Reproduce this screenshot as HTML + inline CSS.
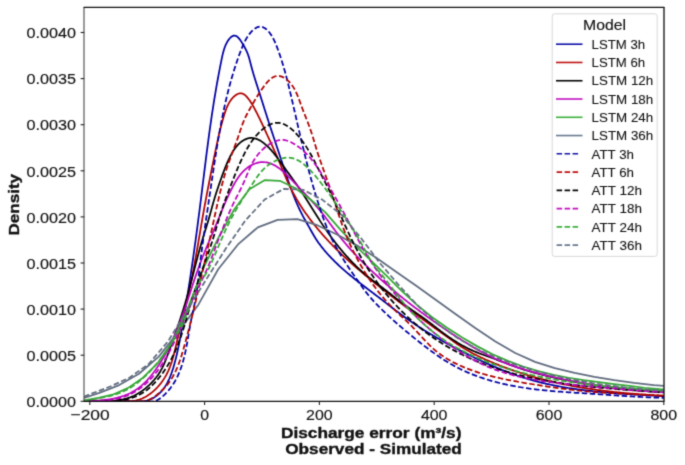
<!DOCTYPE html>
<html><head><meta charset="utf-8"><style>
html,body{margin:0;padding:0;background:#fff;}
svg{display:block;font-family:"Liberation Sans",sans-serif;}
text{fill:#111;stroke:#111;stroke-width:0.15;}
</style></head><body><div id="wrap">
<svg width="685" height="465" viewBox="0 0 685 465">
<defs><filter id="bl" x="0" y="0" width="1" height="1" color-interpolation-filters="sRGB"><feConvolveMatrix order="3" kernelMatrix="0.0225 0.1050 0.0225 0.1050 0.4900 0.1050 0.0225 0.1050 0.0225" edgeMode="duplicate" preserveAlpha="true"/></filter><clipPath id="ax"><rect x="84.2" y="7.5" width="579.5999999999999" height="393.8"/></clipPath></defs>
<g filter="url(#bl)"><rect width="685" height="465" fill="#fff"/>

<g clip-path="url(#ax)" fill="none" stroke-width="1.75" stroke-linejoin="round">
<path d="M84.00,401.40 L85.53,401.44 L87.05,401.47 L88.56,401.49 L90.07,401.50 L91.58,401.51 L93.08,401.51 L94.58,401.50 L96.07,401.49 L97.57,401.48 L99.05,401.46 L100.54,401.44 L102.03,401.41 L103.51,401.39 L104.99,401.36 L106.47,401.33 L107.95,401.30 L109.44,401.28 L110.92,401.25 L112.40,401.22 L113.89,401.20 L115.37,401.18 L116.86,401.17 L118.35,401.16 L119.84,401.15 L121.34,401.15 L122.84,401.16 L124.35,401.17 L125.86,401.19 L127.37,401.22 L128.89,401.26 L130.42,401.30 L131.95,401.36 L133.48,401.41 L135.02,401.45 L136.55,401.48 L138.07,401.48 L139.59,401.45 L141.10,401.38 L142.59,401.25 L144.07,401.07 L145.53,400.82 L146.97,400.50 L148.39,400.09 L149.78,399.60 L151.14,399.03 L152.47,398.38 L153.77,397.66 L155.03,396.87 L156.25,396.02 L157.42,395.12 L158.56,394.17 L159.64,393.17 L160.68,392.13 L161.67,391.05 L162.62,389.94 L163.52,388.79 L164.39,387.61 L165.21,386.39 L165.99,385.15 L166.73,383.88 L167.45,382.59 L168.12,381.27 L168.77,379.93 L169.39,378.57 L169.98,377.19 L170.54,375.79 L171.08,374.38 L171.59,372.96 L172.09,371.53 L172.56,370.09 L173.02,368.64 L173.46,367.18 L173.89,365.73 L174.30,364.27 L174.70,362.81 L175.10,361.35 L175.48,359.89 L175.85,358.42 L176.21,356.96 L176.56,355.50 L176.90,354.03 L177.24,352.57 L177.56,351.10 L177.88,349.64 L178.20,348.17 L178.50,346.70 L178.80,345.23 L179.09,343.76 L179.38,342.29 L179.67,340.82 L179.95,339.35 L180.22,337.88 L180.50,336.41 L180.77,334.94 L181.04,333.47 L181.30,331.99 L181.57,330.52 L181.83,329.05 L182.09,327.58 L182.35,326.10 L182.61,324.63 L182.87,323.16 L183.13,321.68 L183.38,320.21 L183.64,318.73 L183.89,317.26 L184.14,315.78 L184.39,314.31 L184.64,312.83 L184.89,311.36 L185.14,309.88 L185.39,308.40 L185.63,306.93 L185.87,305.45 L186.12,303.97 L186.36,302.50 L186.60,301.02 L186.84,299.54 L187.07,298.06 L187.31,296.59 L187.55,295.11 L187.78,293.63 L188.01,292.15 L188.25,290.67 L188.48,289.19 L188.71,287.71 L188.94,286.23 L189.17,284.75 L189.39,283.27 L189.62,281.79 L189.85,280.31 L190.07,278.83 L190.29,277.35 L190.52,275.87 L190.74,274.39 L190.96,272.91 L191.18,271.43 L191.40,269.94 L191.61,268.46 L191.83,266.98 L192.05,265.50 L192.26,264.01 L192.48,262.53 L192.69,261.05 L192.90,259.57 L193.11,258.08 L193.32,256.60 L193.53,255.12 L193.74,253.63 L193.95,252.15 L194.16,250.66 L194.37,249.18 L194.57,247.69 L194.78,246.21 L194.98,244.73 L195.18,243.24 L195.39,241.76 L195.59,240.27 L195.79,238.78 L195.99,237.30 L196.19,235.81 L196.39,234.33 L196.59,232.84 L196.79,231.35 L196.99,229.87 L197.18,228.38 L197.38,226.90 L197.58,225.41 L197.77,223.92 L197.96,222.43 L198.16,220.95 L198.35,219.46 L198.54,217.97 L198.74,216.49 L198.93,215.00 L199.12,213.51 L199.31,212.02 L199.50,210.53 L199.69,209.05 L199.88,207.56 L200.07,206.07 L200.26,204.58 L200.44,203.09 L200.63,201.60 L200.82,200.11 L201.00,198.62 L201.19,197.14 L201.37,195.65 L201.56,194.16 L201.74,192.67 L201.93,191.18 L202.11,189.69 L202.30,188.20 L202.48,186.71 L202.66,185.22 L202.85,183.73 L203.03,182.24 L203.21,180.75 L203.40,179.26 L203.58,177.77 L203.77,176.28 L203.95,174.79 L204.13,173.30 L204.32,171.82 L204.50,170.33 L204.69,168.84 L204.87,167.35 L205.06,165.86 L205.24,164.37 L205.43,162.88 L205.61,161.40 L205.80,159.91 L205.99,158.42 L206.18,156.93 L206.37,155.45 L206.55,153.96 L206.74,152.47 L206.94,150.99 L207.13,149.50 L207.32,148.02 L207.51,146.53 L207.71,145.05 L207.90,143.56 L208.10,142.08 L208.29,140.60 L208.49,139.11 L208.69,137.63 L208.89,136.15 L209.09,134.67 L209.29,133.18 L209.50,131.70 L209.70,130.22 L209.91,128.74 L210.11,127.26 L210.32,125.78 L210.53,124.31 L210.74,122.83 L210.95,121.35 L211.17,119.87 L211.38,118.40 L211.60,116.92 L211.82,115.44 L212.04,113.97 L212.26,112.49 L212.48,111.02 L212.71,109.54 L212.94,108.07 L213.17,106.59 L213.40,105.12 L213.63,103.64 L213.86,102.17 L214.10,100.69 L214.34,99.22 L214.58,97.74 L214.82,96.26 L215.07,94.79 L215.31,93.31 L215.56,91.83 L215.81,90.35 L216.07,88.88 L216.32,87.40 L216.58,85.92 L216.84,84.44 L217.10,82.96 L217.37,81.47 L217.64,79.99 L217.91,78.51 L218.18,77.02 L218.46,75.54 L218.73,74.05 L219.01,72.57 L219.30,71.08 L219.58,69.59 L219.87,68.10 L220.16,66.61 L220.46,65.11 L220.76,63.62 L221.06,62.12 L221.36,60.63 L221.67,59.13 L221.98,57.63 L222.30,56.13 L222.64,54.65 L222.99,53.17 L223.38,51.70 L223.79,50.25 L224.24,48.82 L224.72,47.41 L225.26,46.02 L225.84,44.66 L226.48,43.34 L227.17,42.05 L227.93,40.79 L228.76,39.60 L229.64,38.49 L230.57,37.51 L231.54,36.69 L232.55,36.07 L233.57,35.69 L234.61,35.58 L235.65,35.78 L236.69,36.30 L237.71,37.09 L238.72,38.12 L239.71,39.34 L240.68,40.69 L241.62,42.13 L242.53,43.61 L243.40,45.10 L244.23,46.54 L245.01,47.97 L245.75,49.37 L246.44,50.76 L247.06,52.16 L247.63,53.56 L248.15,54.96 L248.62,56.37 L249.06,57.79 L249.46,59.20 L249.85,60.63 L250.22,62.05 L250.58,63.48 L250.94,64.90 L251.31,66.33 L251.69,67.76 L252.09,69.18 L252.49,70.61 L252.90,72.04 L253.31,73.47 L253.74,74.89 L254.17,76.32 L254.61,77.75 L255.05,79.18 L255.50,80.60 L255.95,82.03 L256.40,83.46 L256.86,84.89 L257.32,86.31 L257.78,87.74 L258.24,89.17 L258.70,90.60 L259.16,92.03 L259.62,93.45 L260.08,94.88 L260.54,96.31 L260.99,97.74 L261.44,99.16 L261.89,100.59 L262.35,102.02 L262.80,103.45 L263.25,104.87 L263.69,106.30 L264.14,107.73 L264.59,109.15 L265.04,110.58 L265.49,112.01 L265.95,113.43 L266.40,114.86 L266.85,116.29 L267.31,117.71 L267.77,119.14 L268.23,120.57 L268.69,121.99 L269.15,123.42 L269.62,124.84 L270.08,126.27 L270.55,127.69 L271.02,129.12 L271.49,130.55 L271.96,131.97 L272.43,133.39 L272.91,134.82 L273.38,136.24 L273.85,137.67 L274.33,139.09 L274.80,140.51 L275.28,141.94 L275.75,143.36 L276.23,144.78 L276.70,146.20 L277.17,147.62 L277.65,149.05 L278.12,150.47 L278.59,151.89 L279.06,153.31 L279.53,154.73 L280.00,156.15 L280.47,157.56 L280.93,158.98 L281.40,160.40 L281.86,161.82 L282.33,163.23 L282.79,164.65 L283.25,166.07 L283.72,167.48 L284.19,168.90 L284.66,170.31 L285.13,171.73 L285.60,173.14 L286.07,174.55 L286.55,175.96 L287.03,177.38 L287.51,178.79 L287.99,180.20 L288.48,181.61 L288.97,183.02 L289.47,184.42 L289.97,185.83 L290.48,187.24 L290.99,188.64 L291.50,190.05 L292.03,191.45 L292.56,192.86 L293.09,194.26 L293.64,195.66 L294.19,197.05 L294.75,198.45 L295.32,199.84 L295.90,201.23 L296.49,202.62 L297.09,204.00 L297.70,205.38 L298.32,206.76 L298.95,208.13 L299.60,209.50 L300.26,210.87 L300.93,212.23 L301.62,213.59 L302.32,214.94 L303.03,216.29 L303.76,217.63 L304.50,218.97 L305.24,220.30 L305.99,221.63 L306.73,222.95 L307.48,224.26 L308.22,225.57 L308.96,226.88 L309.68,228.17 L310.40,229.46 L311.11,230.75 L311.82,232.02 L312.53,233.29 L313.25,234.55 L313.99,235.80 L314.74,237.05 L315.51,238.29 L316.31,239.51 L317.12,240.74 L317.95,241.95 L318.81,243.15 L319.68,244.35 L320.57,245.54 L321.47,246.72 L322.40,247.89 L323.34,249.06 L324.29,250.21 L325.26,251.36 L326.25,252.50 L327.25,253.63 L328.26,254.75 L329.28,255.87 L330.32,256.97 L331.37,258.07 L332.43,259.16 L333.50,260.24 L334.58,261.32 L335.66,262.38 L336.76,263.44 L337.87,264.49 L338.98,265.53 L340.10,266.56 L341.23,267.58 L342.36,268.60 L343.50,269.60 L344.64,270.60 L345.79,271.59 L346.94,272.57 L348.09,273.55 L349.24,274.51 L350.40,275.47 L351.56,276.42 L352.72,277.36 L353.88,278.29 L355.04,279.21 L356.20,280.13 L357.36,281.04 L358.52,281.95 L359.69,282.85 L360.85,283.75 L362.02,284.64 L363.18,285.54 L364.35,286.43 L365.52,287.31 L366.69,288.20 L367.86,289.09 L369.04,289.97 L370.21,290.86 L371.39,291.75 L372.56,292.64 L373.74,293.53 L374.92,294.43 L376.10,295.33 L377.28,296.23 L378.47,297.14 L379.65,298.05 L380.84,298.97 L382.03,299.89 L383.22,300.81 L384.41,301.74 L385.60,302.66 L386.80,303.59 L388.00,304.52 L389.20,305.45 L390.40,306.37 L391.60,307.30 L392.81,308.23 L394.01,309.15 L395.22,310.08 L396.43,310.99 L397.65,311.91 L398.86,312.82 L400.08,313.73 L401.30,314.64 L402.52,315.54 L403.75,316.43 L404.97,317.32 L406.20,318.20 L407.43,319.07 L408.67,319.94 L409.90,320.80 L411.14,321.65 L412.38,322.50 L413.63,323.34 L414.87,324.18 L416.12,325.01 L417.37,325.83 L418.63,326.65 L419.88,327.47 L421.14,328.27 L422.40,329.07 L423.66,329.87 L424.93,330.66 L426.19,331.45 L427.46,332.23 L428.73,333.00 L430.01,333.77 L431.28,334.54 L432.56,335.30 L433.84,336.05 L435.13,336.81 L436.41,337.55 L437.70,338.30 L438.99,339.03 L440.28,339.77 L441.58,340.50 L442.88,341.23 L444.17,341.95 L445.48,342.67 L446.78,343.38 L448.09,344.09 L449.39,344.80 L450.71,345.51 L452.02,346.21 L453.33,346.90 L454.65,347.60 L455.97,348.29 L457.29,348.98 L458.62,349.67 L459.94,350.35 L461.27,351.03 L462.60,351.71 L463.94,352.39 L465.27,353.06 L466.61,353.73 L467.95,354.40 L469.29,355.07 L470.64,355.73 L471.98,356.39 L473.33,357.05 L474.68,357.70 L476.04,358.36 L477.39,359.01 L478.75,359.65 L480.11,360.29 L481.47,360.93 L482.84,361.57 L484.20,362.20 L485.57,362.82 L486.94,363.44 L488.32,364.06 L489.69,364.67 L491.07,365.28 L492.45,365.88 L493.83,366.48 L495.21,367.07 L496.60,367.66 L497.99,368.24 L499.38,368.82 L500.77,369.39 L502.16,369.95 L503.56,370.51 L504.96,371.06 L506.36,371.61 L507.76,372.14 L509.17,372.68 L510.58,373.20 L511.99,373.72 L513.40,374.23 L514.81,374.73 L516.23,375.23 L517.64,375.72 L519.06,376.20 L520.49,376.67 L521.91,377.14 L523.34,377.59 L524.76,378.04 L526.20,378.48 L527.63,378.91 L529.06,379.34 L530.50,379.75 L531.94,380.16 L533.38,380.56 L534.82,380.95 L536.26,381.33 L537.71,381.71 L539.16,382.08 L540.61,382.44 L542.06,382.79 L543.51,383.14 L544.97,383.48 L546.42,383.81 L547.88,384.14 L549.34,384.45 L550.80,384.76 L552.26,385.07 L553.73,385.37 L555.19,385.66 L556.66,385.94 L558.13,386.22 L559.60,386.50 L561.07,386.76 L562.54,387.02 L564.02,387.28 L565.49,387.53 L566.97,387.77 L568.44,388.01 L569.92,388.24 L571.40,388.47 L572.88,388.69 L574.36,388.91 L575.85,389.12 L577.33,389.32 L578.81,389.53 L580.30,389.72 L581.79,389.92 L583.27,390.10 L584.76,390.29 L586.25,390.47 L587.74,390.64 L589.23,390.81 L590.72,390.98 L592.21,391.14 L593.71,391.30 L595.20,391.46 L596.69,391.61 L598.19,391.75 L599.68,391.90 L601.18,392.04 L602.67,392.18 L604.17,392.31 L605.67,392.45 L607.16,392.57 L608.66,392.70 L610.16,392.82 L611.65,392.94 L613.15,393.06 L614.65,393.18 L616.15,393.29 L617.65,393.40 L619.15,393.51 L620.64,393.62 L622.14,393.72 L623.64,393.83 L625.14,393.93 L626.64,394.03 L628.14,394.13 L629.64,394.23 L631.14,394.32 L632.63,394.42 L634.13,394.51 L635.63,394.60 L637.13,394.69 L638.62,394.78 L640.12,394.87 L641.62,394.96 L643.11,395.05 L644.61,395.14 L646.10,395.23 L647.60,395.32 L649.09,395.41 L650.59,395.49 L652.08,395.58 L653.57,395.67 L655.06,395.76 L656.55,395.85 L658.04,395.94 L659.53,396.03 L661.02,396.12 L662.51,396.21 L664.00,396.30" stroke="#0000a4"/>
<path d="M84.00,401.40 L85.52,401.41 L87.04,401.42 L88.55,401.43 L90.05,401.43 L91.55,401.43 L93.05,401.42 L94.55,401.42 L96.04,401.41 L97.53,401.39 L99.02,401.38 L100.50,401.36 L101.99,401.35 L103.47,401.33 L104.96,401.32 L106.45,401.30 L107.93,401.29 L109.42,401.27 L110.91,401.26 L112.40,401.25 L113.89,401.25 L115.39,401.24 L116.89,401.24 L118.39,401.25 L119.90,401.26 L121.41,401.27 L122.93,401.28 L124.44,401.28 L125.96,401.27 L127.47,401.24 L128.98,401.18 L130.49,401.10 L131.98,400.97 L133.47,400.80 L134.95,400.58 L136.41,400.31 L137.86,399.97 L139.29,399.57 L140.70,399.09 L142.09,398.53 L143.47,397.90 L144.81,397.22 L146.14,396.47 L147.43,395.67 L148.70,394.84 L149.94,393.96 L151.14,393.05 L152.31,392.12 L153.45,391.15 L154.56,390.16 L155.64,389.14 L156.68,388.09 L157.70,387.02 L158.68,385.92 L159.64,384.80 L160.56,383.66 L161.45,382.49 L162.32,381.30 L163.15,380.09 L163.95,378.86 L164.73,377.62 L165.47,376.35 L166.19,375.07 L166.88,373.77 L167.54,372.45 L168.17,371.12 L168.77,369.77 L169.35,368.41 L169.90,367.04 L170.42,365.65 L170.92,364.25 L171.40,362.85 L171.86,361.43 L172.30,360.00 L172.72,358.57 L173.13,357.13 L173.53,355.68 L173.91,354.23 L174.28,352.77 L174.65,351.31 L175.00,349.84 L175.36,348.37 L175.71,346.90 L176.05,345.43 L176.40,343.96 L176.75,342.49 L177.10,341.02 L177.45,339.54 L177.81,338.08 L178.16,336.61 L178.51,335.14 L178.87,333.67 L179.23,332.20 L179.58,330.73 L179.94,329.26 L180.30,327.80 L180.66,326.33 L181.01,324.86 L181.37,323.40 L181.73,321.93 L182.09,320.47 L182.45,319.00 L182.80,317.54 L183.16,316.07 L183.51,314.61 L183.87,313.14 L184.22,311.68 L184.58,310.21 L184.93,308.75 L185.28,307.29 L185.63,305.82 L185.98,304.36 L186.32,302.90 L186.67,301.44 L187.01,299.97 L187.35,298.51 L187.69,297.05 L188.02,295.58 L188.36,294.12 L188.69,292.66 L189.02,291.20 L189.34,289.73 L189.67,288.27 L189.99,286.81 L190.31,285.35 L190.62,283.88 L190.93,282.42 L191.24,280.96 L191.54,279.50 L191.84,278.03 L192.14,276.57 L192.43,275.11 L192.72,273.64 L193.01,272.18 L193.29,270.72 L193.58,269.25 L193.85,267.79 L194.13,266.33 L194.40,264.86 L194.67,263.40 L194.94,261.93 L195.20,260.47 L195.47,259.00 L195.73,257.54 L195.99,256.07 L196.24,254.60 L196.50,253.14 L196.76,251.67 L197.01,250.20 L197.26,248.74 L197.51,247.27 L197.76,245.80 L198.01,244.33 L198.26,242.86 L198.51,241.39 L198.76,239.92 L199.00,238.45 L199.25,236.98 L199.50,235.51 L199.75,234.04 L200.00,232.57 L200.24,231.09 L200.49,229.62 L200.74,228.14 L200.99,226.67 L201.24,225.19 L201.50,223.72 L201.75,222.24 L202.01,220.77 L202.26,219.29 L202.52,217.81 L202.78,216.33 L203.04,214.85 L203.31,213.37 L203.57,211.89 L203.84,210.41 L204.10,208.93 L204.37,207.45 L204.64,205.96 L204.92,204.48 L205.19,203.00 L205.47,201.52 L205.74,200.04 L206.02,198.55 L206.30,197.07 L206.58,195.59 L206.86,194.11 L207.14,192.62 L207.42,191.14 L207.71,189.66 L207.99,188.18 L208.28,186.70 L208.57,185.22 L208.86,183.74 L209.15,182.26 L209.44,180.78 L209.73,179.30 L210.02,177.83 L210.31,176.35 L210.61,174.88 L210.90,173.40 L211.20,171.93 L211.49,170.45 L211.79,168.98 L212.09,167.51 L212.38,166.04 L212.68,164.57 L212.98,163.11 L213.28,161.64 L213.58,160.18 L213.88,158.71 L214.18,157.25 L214.48,155.79 L214.78,154.33 L215.08,152.88 L215.38,151.42 L215.68,149.97 L215.99,148.52 L216.29,147.07 L216.59,145.62 L216.90,144.17 L217.20,142.72 L217.52,141.28 L217.83,139.83 L218.15,138.39 L218.47,136.94 L218.79,135.49 L219.12,134.05 L219.46,132.60 L219.81,131.15 L220.16,129.70 L220.52,128.25 L220.88,126.79 L221.26,125.34 L221.64,123.88 L222.03,122.42 L222.44,120.95 L222.85,119.49 L223.28,118.01 L223.71,116.54 L224.16,115.06 L224.63,113.59 L225.11,112.12 L225.62,110.66 L226.15,109.21 L226.72,107.79 L227.31,106.39 L227.95,105.03 L228.63,103.69 L229.35,102.40 L230.12,101.16 L230.95,99.96 L231.83,98.83 L232.77,97.75 L233.77,96.74 L234.84,95.80 L235.97,94.97 L237.13,94.27 L238.34,93.74 L239.56,93.41 L240.80,93.30 L242.04,93.46 L243.28,93.90 L244.49,94.65 L245.68,95.66 L246.82,96.85 L247.91,98.16 L248.95,99.51 L249.91,100.86 L250.82,102.21 L251.67,103.55 L252.48,104.89 L253.25,106.23 L253.99,107.56 L254.71,108.89 L255.41,110.22 L256.09,111.55 L256.77,112.88 L257.44,114.20 L258.10,115.52 L258.75,116.84 L259.39,118.17 L260.03,119.49 L260.66,120.81 L261.29,122.13 L261.92,123.46 L262.54,124.79 L263.16,126.11 L263.77,127.45 L264.39,128.78 L265.00,130.12 L265.62,131.46 L266.24,132.80 L266.86,134.15 L267.48,135.50 L268.10,136.86 L268.73,138.22 L269.36,139.59 L269.99,140.96 L270.62,142.33 L271.25,143.71 L271.89,145.09 L272.52,146.47 L273.15,147.86 L273.78,149.25 L274.40,150.64 L275.03,152.03 L275.65,153.42 L276.27,154.82 L276.88,156.21 L277.49,157.61 L278.09,159.00 L278.69,160.40 L279.28,161.80 L279.87,163.19 L280.45,164.58 L281.02,165.98 L281.59,167.37 L282.16,168.75 L282.73,170.14 L283.29,171.53 L283.86,172.91 L284.43,174.29 L285.01,175.66 L285.59,177.03 L286.17,178.40 L286.76,179.76 L287.36,181.12 L287.97,182.48 L288.59,183.83 L289.23,185.17 L289.87,186.51 L290.52,187.84 L291.19,189.17 L291.87,190.49 L292.56,191.81 L293.25,193.12 L293.97,194.43 L294.69,195.73 L295.42,197.03 L296.16,198.32 L296.91,199.60 L297.67,200.88 L298.45,202.16 L299.23,203.42 L300.02,204.69 L300.82,205.95 L301.63,207.20 L302.45,208.45 L303.28,209.69 L304.12,210.93 L304.97,212.16 L305.82,213.39 L306.69,214.61 L307.56,215.82 L308.44,217.03 L309.33,218.24 L310.23,219.44 L311.14,220.64 L312.05,221.82 L312.97,223.01 L313.90,224.19 L314.84,225.36 L315.78,226.53 L316.73,227.69 L317.69,228.85 L318.66,230.00 L319.63,231.15 L320.61,232.29 L321.59,233.43 L322.58,234.56 L323.58,235.68 L324.58,236.80 L325.59,237.92 L326.61,239.03 L327.63,240.13 L328.66,241.23 L329.69,242.33 L330.72,243.42 L331.77,244.50 L332.81,245.58 L333.86,246.65 L334.92,247.72 L335.98,248.78 L337.05,249.84 L338.12,250.89 L339.19,251.94 L340.27,252.98 L341.35,254.01 L342.44,255.04 L343.53,256.07 L344.62,257.09 L345.72,258.10 L346.82,259.11 L347.92,260.12 L349.03,261.12 L350.13,262.11 L351.25,263.11 L352.36,264.10 L353.48,265.08 L354.60,266.06 L355.73,267.04 L356.86,268.01 L357.99,268.98 L359.12,269.95 L360.25,270.92 L361.39,271.88 L362.53,272.84 L363.68,273.80 L364.82,274.76 L365.97,275.71 L367.12,276.66 L368.28,277.61 L369.43,278.56 L370.59,279.51 L371.75,280.45 L372.92,281.39 L374.08,282.33 L375.25,283.27 L376.42,284.21 L377.59,285.14 L378.76,286.08 L379.93,287.01 L381.11,287.94 L382.29,288.87 L383.47,289.79 L384.65,290.72 L385.83,291.64 L387.02,292.56 L388.20,293.49 L389.39,294.40 L390.58,295.32 L391.77,296.24 L392.96,297.15 L394.15,298.07 L395.35,298.98 L396.54,299.89 L397.74,300.80 L398.93,301.70 L400.13,302.61 L401.33,303.51 L402.53,304.41 L403.73,305.31 L404.93,306.21 L406.13,307.11 L407.34,308.01 L408.54,308.90 L409.74,309.79 L410.95,310.68 L412.15,311.57 L413.36,312.46 L414.56,313.35 L415.77,314.23 L416.98,315.12 L418.18,316.00 L419.39,316.88 L420.60,317.76 L421.80,318.63 L423.01,319.51 L424.22,320.38 L425.42,321.25 L426.63,322.12 L427.84,322.99 L429.04,323.86 L430.25,324.72 L431.45,325.59 L432.66,326.45 L433.86,327.31 L435.07,328.17 L436.27,329.03 L437.48,329.89 L438.68,330.75 L439.89,331.61 L441.10,332.47 L442.31,333.34 L443.52,334.21 L444.74,335.08 L445.95,335.96 L447.17,336.84 L448.40,337.72 L449.62,338.61 L450.85,339.51 L452.09,340.40 L453.32,341.29 L454.57,342.18 L455.81,343.06 L457.07,343.93 L458.33,344.79 L459.59,345.63 L460.86,346.46 L462.13,347.27 L463.42,348.06 L464.70,348.84 L466.00,349.61 L467.29,350.36 L468.60,351.10 L469.90,351.82 L471.22,352.54 L472.53,353.24 L473.85,353.93 L475.18,354.61 L476.51,355.27 L477.85,355.93 L479.19,356.58 L480.53,357.22 L481.88,357.85 L483.23,358.47 L484.58,359.08 L485.94,359.69 L487.31,360.29 L488.67,360.89 L490.04,361.48 L491.41,362.06 L492.78,362.64 L494.16,363.21 L495.54,363.78 L496.93,364.34 L498.31,364.89 L499.70,365.44 L501.10,365.99 L502.49,366.52 L503.89,367.06 L505.29,367.58 L506.69,368.10 L508.10,368.62 L509.50,369.13 L510.91,369.63 L512.33,370.13 L513.74,370.62 L515.16,371.11 L516.58,371.59 L518.00,372.06 L519.42,372.53 L520.85,372.99 L522.28,373.45 L523.71,373.91 L525.14,374.35 L526.57,374.79 L528.01,375.23 L529.45,375.66 L530.89,376.08 L532.33,376.50 L533.77,376.92 L535.21,377.33 L536.66,377.73 L538.11,378.12 L539.55,378.52 L541.00,378.90 L542.46,379.28 L543.91,379.66 L545.36,380.03 L546.82,380.39 L548.27,380.75 L549.73,381.10 L551.19,381.45 L552.65,381.79 L554.11,382.13 L555.57,382.46 L557.03,382.79 L558.49,383.11 L559.96,383.42 L561.42,383.74 L562.89,384.04 L564.36,384.34 L565.83,384.64 L567.30,384.93 L568.77,385.22 L570.24,385.50 L571.71,385.78 L573.18,386.05 L574.66,386.32 L576.13,386.58 L577.61,386.84 L579.08,387.10 L580.56,387.35 L582.04,387.59 L583.52,387.84 L584.99,388.07 L586.47,388.31 L587.95,388.54 L589.44,388.76 L590.92,388.98 L592.40,389.20 L593.88,389.41 L595.37,389.62 L596.85,389.82 L598.34,390.03 L599.82,390.22 L601.31,390.42 L602.80,390.61 L604.28,390.79 L605.77,390.98 L607.26,391.16 L608.75,391.33 L610.24,391.50 L611.73,391.67 L613.21,391.84 L614.71,392.00 L616.20,392.16 L617.69,392.31 L619.18,392.47 L620.67,392.62 L622.16,392.76 L623.65,392.91 L625.15,393.05 L626.64,393.18 L628.13,393.32 L629.63,393.45 L631.12,393.58 L632.61,393.70 L634.11,393.83 L635.60,393.95 L637.10,394.07 L638.59,394.18 L640.08,394.29 L641.58,394.41 L643.07,394.51 L644.57,394.62 L646.06,394.72 L647.56,394.82 L649.05,394.92 L650.55,395.02 L652.04,395.11 L653.54,395.21 L655.03,395.30 L656.53,395.39 L658.02,395.47 L659.52,395.56 L661.01,395.64 L662.51,395.72 L664.00,395.80" stroke="#b00000"/>
<path d="M84.00,401.40 L85.47,401.36 L86.95,401.33 L88.43,401.32 L89.92,401.31 L91.42,401.30 L92.92,401.30 L94.42,401.30 L95.93,401.30 L97.44,401.30 L98.95,401.29 L100.46,401.28 L101.98,401.26 L103.49,401.24 L105.00,401.20 L106.51,401.16 L108.02,401.10 L109.53,401.02 L111.03,400.93 L112.53,400.82 L114.02,400.68 L115.51,400.53 L116.99,400.35 L118.47,400.14 L119.93,399.91 L121.39,399.65 L122.84,399.36 L124.28,399.03 L125.71,398.67 L127.13,398.28 L128.53,397.84 L129.93,397.37 L131.31,396.86 L132.67,396.30 L134.02,395.70 L135.36,395.05 L136.68,394.35 L137.98,393.61 L139.27,392.83 L140.54,392.01 L141.78,391.15 L143.01,390.26 L144.22,389.33 L145.41,388.38 L146.57,387.40 L147.71,386.40 L148.83,385.38 L149.92,384.34 L150.99,383.28 L152.03,382.21 L153.04,381.12 L154.03,380.02 L154.98,378.90 L155.91,377.76 L156.81,376.59 L157.68,375.40 L158.52,374.19 L159.32,372.95 L160.10,371.69 L160.84,370.41 L161.56,369.11 L162.25,367.80 L162.90,366.47 L163.53,365.13 L164.14,363.77 L164.72,362.41 L165.29,361.03 L165.84,359.65 L166.37,358.26 L166.90,356.87 L167.43,355.47 L167.95,354.07 L168.47,352.67 L168.99,351.27 L169.50,349.87 L170.02,348.46 L170.53,347.06 L171.04,345.65 L171.55,344.25 L172.06,342.84 L172.57,341.43 L173.07,340.02 L173.57,338.60 L174.07,337.19 L174.57,335.77 L175.07,334.36 L175.56,332.94 L176.05,331.52 L176.54,330.11 L177.02,328.69 L177.51,327.26 L177.99,325.84 L178.46,324.42 L178.94,323.00 L179.41,321.57 L179.88,320.15 L180.35,318.72 L180.81,317.29 L181.27,315.86 L181.73,314.44 L182.18,313.01 L182.63,311.58 L183.08,310.14 L183.52,308.71 L183.96,307.28 L184.40,305.85 L184.83,304.41 L185.26,302.98 L185.68,301.54 L186.10,300.11 L186.52,298.67 L186.94,297.23 L187.34,295.79 L187.75,294.36 L188.15,292.92 L188.55,291.48 L188.94,290.04 L189.33,288.60 L189.72,287.16 L190.11,285.71 L190.49,284.27 L190.87,282.83 L191.25,281.39 L191.63,279.94 L192.00,278.50 L192.38,277.06 L192.75,275.61 L193.12,274.17 L193.50,272.72 L193.87,271.28 L194.24,269.83 L194.61,268.39 L194.98,266.94 L195.36,265.50 L195.73,264.05 L196.11,262.60 L196.48,261.16 L196.86,259.71 L197.24,258.26 L197.62,256.82 L198.01,255.37 L198.40,253.92 L198.79,252.48 L199.18,251.03 L199.58,249.58 L199.98,248.14 L200.39,246.69 L200.80,245.24 L201.21,243.80 L201.63,242.35 L202.05,240.90 L202.48,239.46 L202.91,238.01 L203.35,236.57 L203.80,235.12 L204.24,233.67 L204.69,232.23 L205.14,230.78 L205.59,229.34 L206.04,227.90 L206.49,226.45 L206.94,225.01 L207.38,223.57 L207.82,222.13 L208.25,220.69 L208.67,219.25 L209.09,217.81 L209.50,216.37 L209.90,214.93 L210.30,213.50 L210.69,212.06 L211.08,210.63 L211.47,209.19 L211.86,207.76 L212.25,206.33 L212.65,204.90 L213.05,203.47 L213.46,202.05 L213.87,200.62 L214.29,199.20 L214.72,197.78 L215.15,196.36 L215.59,194.94 L216.03,193.52 L216.49,192.10 L216.95,190.69 L217.42,189.28 L217.90,187.87 L218.38,186.46 L218.86,185.05 L219.35,183.65 L219.85,182.25 L220.34,180.85 L220.83,179.45 L221.33,178.05 L221.83,176.66 L222.33,175.26 L222.84,173.87 L223.35,172.48 L223.88,171.09 L224.41,169.70 L224.95,168.30 L225.51,166.91 L226.08,165.51 L226.66,164.12 L227.27,162.72 L227.88,161.32 L228.52,159.91 L229.18,158.51 L229.86,157.10 L230.57,155.71 L231.30,154.33 L232.06,152.96 L232.85,151.62 L233.67,150.31 L234.52,149.03 L235.41,147.79 L236.34,146.60 L237.31,145.45 L238.32,144.37 L239.37,143.34 L240.47,142.38 L241.62,141.49 L242.80,140.68 L244.02,139.96 L245.28,139.34 L246.55,138.82 L247.86,138.42 L249.17,138.13 L250.50,137.98 L251.84,137.95 L253.17,138.05 L254.51,138.28 L255.83,138.63 L257.15,139.10 L258.45,139.68 L259.74,140.35 L261.01,141.11 L262.25,141.94 L263.48,142.84 L264.67,143.80 L265.84,144.80 L266.98,145.83 L268.09,146.89 L269.16,147.97 L270.21,149.08 L271.23,150.20 L272.23,151.34 L273.21,152.50 L274.16,153.67 L275.10,154.86 L276.03,156.05 L276.94,157.26 L277.84,158.47 L278.73,159.69 L279.62,160.91 L280.50,162.14 L281.38,163.37 L282.26,164.59 L283.14,165.81 L284.02,167.03 L284.90,168.25 L285.78,169.47 L286.66,170.69 L287.54,171.91 L288.42,173.13 L289.30,174.34 L290.18,175.56 L291.05,176.77 L291.93,177.99 L292.80,179.21 L293.67,180.43 L294.53,181.64 L295.40,182.86 L296.26,184.09 L297.11,185.31 L297.97,186.53 L298.81,187.76 L299.66,188.99 L300.50,190.22 L301.33,191.45 L302.16,192.68 L302.98,193.92 L303.80,195.16 L304.61,196.41 L305.42,197.66 L306.22,198.91 L307.01,200.16 L307.81,201.41 L308.60,202.67 L309.38,203.93 L310.17,205.19 L310.95,206.45 L311.74,207.72 L312.52,208.98 L313.31,210.24 L314.09,211.51 L314.88,212.77 L315.67,214.04 L316.47,215.30 L317.27,216.56 L318.07,217.83 L318.88,219.09 L319.69,220.35 L320.51,221.61 L321.34,222.86 L322.16,224.12 L323.00,225.37 L323.84,226.62 L324.69,227.86 L325.54,229.11 L326.39,230.35 L327.26,231.58 L328.12,232.81 L329.00,234.04 L329.88,235.26 L330.76,236.48 L331.65,237.70 L332.55,238.91 L333.45,240.11 L334.36,241.31 L335.27,242.50 L336.19,243.69 L337.12,244.87 L338.05,246.04 L338.99,247.21 L339.94,248.38 L340.89,249.53 L341.85,250.68 L342.81,251.83 L343.79,252.96 L344.77,254.09 L345.75,255.21 L346.75,256.33 L347.75,257.44 L348.76,258.54 L349.77,259.63 L350.79,260.72 L351.83,261.79 L352.86,262.86 L353.91,263.92 L354.97,264.98 L356.03,266.02 L357.10,267.06 L358.18,268.08 L359.26,269.10 L360.36,270.11 L361.46,271.11 L362.57,272.10 L363.69,273.08 L364.82,274.05 L365.96,275.01 L367.11,275.97 L368.27,276.91 L369.43,277.84 L370.60,278.77 L371.78,279.69 L372.96,280.60 L374.15,281.51 L375.34,282.41 L376.53,283.31 L377.73,284.21 L378.93,285.11 L380.13,286.01 L381.32,286.91 L382.52,287.81 L383.72,288.71 L384.91,289.62 L386.10,290.53 L387.29,291.45 L388.47,292.37 L389.65,293.30 L390.83,294.22 L392.01,295.15 L393.19,296.07 L394.37,297.00 L395.55,297.92 L396.73,298.85 L397.92,299.77 L399.11,300.68 L400.30,301.59 L401.49,302.50 L402.69,303.40 L403.89,304.29 L405.10,305.18 L406.32,306.06 L407.54,306.93 L408.76,307.79 L409.99,308.65 L411.22,309.51 L412.45,310.36 L413.68,311.22 L414.91,312.07 L416.15,312.92 L417.38,313.77 L418.61,314.62 L419.83,315.47 L421.06,316.33 L422.28,317.19 L423.49,318.06 L424.70,318.93 L425.90,319.81 L427.10,320.70 L428.29,321.59 L429.47,322.49 L430.66,323.39 L431.83,324.30 L433.01,325.21 L434.19,326.12 L435.37,327.03 L436.54,327.95 L437.73,328.86 L438.91,329.77 L440.10,330.67 L441.29,331.58 L442.49,332.47 L443.70,333.37 L444.91,334.25 L446.14,335.13 L447.37,336.00 L448.61,336.87 L449.86,337.72 L451.11,338.56 L452.37,339.40 L453.64,340.22 L454.92,341.03 L456.21,341.84 L457.50,342.63 L458.80,343.40 L460.10,344.17 L461.41,344.92 L462.73,345.65 L464.05,346.37 L465.38,347.08 L466.71,347.77 L468.05,348.44 L469.39,349.10 L470.74,349.74 L472.10,350.36 L473.45,350.96 L474.82,351.54 L476.18,352.11 L477.55,352.67 L478.93,353.21 L480.30,353.74 L481.68,354.26 L483.07,354.77 L484.45,355.28 L485.84,355.78 L487.24,356.28 L488.63,356.78 L490.03,357.28 L491.43,357.77 L492.83,358.27 L494.23,358.78 L495.63,359.29 L497.04,359.81 L498.45,360.33 L499.85,360.86 L501.26,361.40 L502.67,361.93 L504.08,362.47 L505.50,363.01 L506.91,363.55 L508.33,364.09 L509.74,364.63 L511.16,365.16 L512.58,365.69 L514.00,366.21 L515.42,366.72 L516.84,367.23 L518.27,367.72 L519.69,368.21 L521.12,368.69 L522.55,369.15 L523.98,369.61 L525.41,370.06 L526.84,370.50 L528.27,370.93 L529.71,371.35 L531.14,371.77 L532.58,372.17 L534.02,372.57 L535.45,372.97 L536.90,373.36 L538.34,373.74 L539.78,374.12 L541.22,374.49 L542.67,374.85 L544.12,375.21 L545.57,375.57 L547.02,375.93 L548.47,376.28 L549.92,376.62 L551.37,376.96 L552.83,377.30 L554.28,377.63 L555.74,377.96 L557.20,378.29 L558.66,378.61 L560.12,378.93 L561.58,379.25 L563.04,379.56 L564.50,379.87 L565.97,380.17 L567.43,380.47 L568.90,380.76 L570.37,381.06 L571.84,381.34 L573.31,381.63 L574.78,381.91 L576.25,382.19 L577.72,382.46 L579.19,382.73 L580.67,383.00 L582.14,383.26 L583.62,383.52 L585.09,383.77 L586.57,384.02 L588.05,384.27 L589.53,384.51 L591.01,384.75 L592.49,384.99 L593.97,385.22 L595.45,385.45 L596.93,385.68 L598.41,385.90 L599.90,386.12 L601.38,386.33 L602.87,386.54 L604.35,386.75 L605.84,386.95 L607.32,387.15 L608.81,387.35 L610.30,387.54 L611.79,387.73 L613.27,387.92 L614.76,388.10 L616.25,388.28 L617.74,388.46 L619.23,388.63 L620.72,388.80 L622.21,388.96 L623.70,389.12 L625.19,389.28 L626.68,389.44 L628.17,389.59 L629.67,389.73 L631.16,389.88 L632.65,390.02 L634.14,390.16 L635.64,390.29 L637.13,390.42 L638.62,390.55 L640.11,390.67 L641.61,390.79 L643.10,390.91 L644.59,391.02 L646.09,391.13 L647.58,391.24 L649.07,391.34 L650.57,391.44 L652.06,391.54 L653.55,391.64 L655.04,391.73 L656.54,391.81 L658.03,391.90 L659.52,391.98 L661.02,392.05 L662.51,392.13 L664.00,392.20" stroke="#000"/>
<path d="M84.00,401.20 L85.41,401.16 L86.83,401.11 L88.26,401.07 L89.71,401.01 L91.18,400.95 L92.66,400.88 L94.14,400.80 L95.64,400.72 L97.15,400.62 L98.66,400.51 L100.18,400.38 L101.70,400.24 L103.23,400.09 L104.75,399.92 L106.28,399.73 L107.80,399.52 L109.33,399.30 L110.85,399.05 L112.36,398.78 L113.87,398.49 L115.37,398.17 L116.86,397.83 L118.33,397.46 L119.80,397.07 L121.26,396.65 L122.69,396.19 L124.12,395.71 L125.52,395.19 L126.91,394.65 L128.28,394.07 L129.62,393.45 L130.94,392.80 L132.24,392.11 L133.52,391.38 L134.77,390.62 L136.00,389.83 L137.21,389.00 L138.39,388.15 L139.55,387.26 L140.70,386.34 L141.82,385.40 L142.92,384.42 L144.00,383.42 L145.06,382.40 L146.11,381.35 L147.13,380.28 L148.14,379.19 L149.13,378.08 L150.10,376.95 L151.06,375.79 L152.00,374.63 L152.92,373.44 L153.83,372.24 L154.72,371.03 L155.60,369.80 L156.47,368.56 L157.32,367.32 L158.16,366.06 L158.98,364.79 L159.80,363.51 L160.60,362.23 L161.39,360.95 L162.17,359.65 L162.94,358.36 L163.69,357.05 L164.44,355.75 L165.18,354.43 L165.90,353.12 L166.62,351.80 L167.32,350.47 L168.02,349.14 L168.70,347.81 L169.38,346.47 L170.04,345.13 L170.70,343.78 L171.35,342.43 L171.99,341.07 L172.62,339.72 L173.25,338.35 L173.86,336.99 L174.47,335.62 L175.07,334.25 L175.66,332.87 L176.24,331.50 L176.82,330.11 L177.39,328.73 L177.95,327.34 L178.51,325.95 L179.06,324.56 L179.60,323.17 L180.14,321.77 L180.67,320.37 L181.19,318.97 L181.71,317.57 L182.22,316.16 L182.73,314.76 L183.23,313.35 L183.73,311.94 L184.23,310.53 L184.71,309.11 L185.20,307.70 L185.68,306.28 L186.16,304.87 L186.63,303.45 L187.11,302.03 L187.58,300.61 L188.04,299.19 L188.51,297.77 L188.97,296.35 L189.44,294.93 L189.90,293.50 L190.36,292.08 L190.83,290.66 L191.29,289.24 L191.75,287.81 L192.22,286.39 L192.68,284.97 L193.15,283.55 L193.62,282.13 L194.09,280.71 L194.57,279.29 L195.04,277.87 L195.52,276.45 L196.01,275.03 L196.49,273.62 L196.99,272.20 L197.48,270.79 L197.98,269.38 L198.49,267.97 L199.00,266.56 L199.52,265.15 L200.04,263.75 L200.57,262.35 L201.11,260.95 L201.65,259.55 L202.19,258.15 L202.74,256.75 L203.30,255.35 L203.85,253.96 L204.41,252.57 L204.98,251.18 L205.55,249.79 L206.12,248.40 L206.69,247.01 L207.27,245.63 L207.85,244.24 L208.43,242.86 L209.02,241.48 L209.60,240.09 L210.19,238.71 L210.77,237.33 L211.36,235.96 L211.95,234.58 L212.54,233.20 L213.13,231.83 L213.72,230.45 L214.31,229.08 L214.89,227.70 L215.47,226.33 L216.05,224.96 L216.62,223.58 L217.19,222.21 L217.75,220.84 L218.30,219.47 L218.85,218.10 L219.40,216.73 L219.95,215.36 L220.49,213.99 L221.04,212.62 L221.59,211.25 L222.14,209.89 L222.70,208.52 L223.27,207.15 L223.84,205.78 L224.42,204.41 L225.01,203.04 L225.61,201.68 L226.21,200.31 L226.83,198.94 L227.45,197.58 L228.09,196.21 L228.73,194.85 L229.38,193.49 L230.04,192.13 L230.72,190.77 L231.40,189.41 L232.10,188.06 L232.80,186.70 L233.52,185.35 L234.26,184.01 L235.01,182.68 L235.79,181.36 L236.59,180.06 L237.41,178.77 L238.26,177.51 L239.14,176.28 L240.05,175.07 L241.00,173.90 L241.98,172.76 L243.00,171.66 L244.06,170.59 L245.17,169.57 L246.32,168.60 L247.50,167.68 L248.72,166.82 L249.97,166.02 L251.25,165.28 L252.56,164.60 L253.90,164.00 L255.25,163.48 L256.63,163.04 L258.02,162.68 L259.42,162.41 L260.84,162.23 L262.26,162.14 L263.69,162.15 L265.11,162.25 L266.53,162.44 L267.94,162.72 L269.33,163.09 L270.70,163.54 L272.04,164.07 L273.37,164.68 L274.66,165.36 L275.94,166.11 L277.20,166.91 L278.43,167.76 L279.65,168.66 L280.84,169.60 L282.01,170.58 L283.17,171.58 L284.31,172.60 L285.42,173.64 L286.53,174.68 L287.61,175.73 L288.68,176.78 L289.73,177.84 L290.78,178.89 L291.81,179.95 L292.83,181.01 L293.85,182.07 L294.86,183.14 L295.87,184.20 L296.88,185.27 L297.89,186.35 L298.90,187.42 L299.91,188.50 L300.93,189.58 L301.96,190.67 L302.99,191.76 L304.03,192.85 L305.07,193.95 L306.12,195.05 L307.16,196.15 L308.21,197.26 L309.25,198.37 L310.30,199.49 L311.34,200.61 L312.37,201.74 L313.40,202.87 L314.43,204.01 L315.44,205.15 L316.45,206.30 L317.45,207.45 L318.43,208.61 L319.41,209.77 L320.38,210.93 L321.33,212.10 L322.27,213.27 L323.20,214.44 L324.12,215.62 L325.02,216.80 L325.90,217.98 L326.78,219.16 L327.65,220.35 L328.51,221.53 L329.37,222.72 L330.23,223.90 L331.09,225.09 L331.96,226.27 L332.83,227.46 L333.70,228.64 L334.58,229.83 L335.47,231.01 L336.36,232.19 L337.26,233.36 L338.17,234.54 L339.08,235.71 L340.00,236.88 L340.92,238.04 L341.86,239.20 L342.80,240.36 L343.75,241.51 L344.70,242.66 L345.66,243.80 L346.64,244.94 L347.61,246.07 L348.60,247.20 L349.59,248.32 L350.59,249.44 L351.60,250.55 L352.61,251.66 L353.62,252.77 L354.65,253.87 L355.68,254.97 L356.71,256.06 L357.75,257.14 L358.80,258.23 L359.85,259.31 L360.90,260.38 L361.96,261.45 L363.03,262.52 L364.10,263.58 L365.17,264.64 L366.24,265.69 L367.32,266.74 L368.41,267.78 L369.49,268.83 L370.58,269.86 L371.67,270.90 L372.77,271.93 L373.86,272.95 L374.96,273.98 L376.07,274.99 L377.17,276.01 L378.28,277.02 L379.39,278.03 L380.50,279.03 L381.61,280.03 L382.73,281.03 L383.85,282.02 L384.97,283.01 L386.09,284.00 L387.22,284.98 L388.35,285.96 L389.48,286.94 L390.61,287.91 L391.75,288.88 L392.89,289.85 L394.03,290.81 L395.18,291.77 L396.32,292.72 L397.47,293.68 L398.62,294.63 L399.78,295.57 L400.94,296.51 L402.10,297.45 L403.26,298.39 L404.43,299.33 L405.60,300.26 L406.77,301.18 L407.94,302.11 L409.12,303.03 L410.30,303.95 L411.48,304.87 L412.66,305.78 L413.85,306.69 L415.04,307.60 L416.23,308.50 L417.43,309.40 L418.63,310.30 L419.83,311.20 L421.03,312.09 L422.23,312.98 L423.44,313.87 L424.65,314.75 L425.86,315.64 L427.08,316.52 L428.29,317.40 L429.51,318.27 L430.73,319.14 L431.95,320.01 L433.18,320.88 L434.40,321.75 L435.63,322.61 L436.86,323.47 L438.09,324.33 L439.32,325.18 L440.56,326.04 L441.80,326.89 L443.03,327.74 L444.27,328.58 L445.52,329.43 L446.76,330.27 L448.00,331.11 L449.25,331.95 L450.50,332.78 L451.75,333.62 L453.00,334.45 L454.25,335.27 L455.51,336.10 L456.76,336.92 L458.02,337.74 L459.28,338.55 L460.55,339.36 L461.81,340.17 L463.08,340.97 L464.35,341.76 L465.62,342.56 L466.90,343.34 L468.17,344.12 L469.46,344.90 L470.74,345.67 L472.03,346.43 L473.32,347.19 L474.61,347.95 L475.90,348.69 L477.20,349.43 L478.51,350.16 L479.81,350.89 L481.12,351.61 L482.44,352.32 L483.75,353.02 L485.07,353.71 L486.40,354.40 L487.73,355.08 L489.06,355.75 L490.40,356.41 L491.74,357.06 L493.08,357.70 L494.43,358.34 L495.78,358.96 L497.14,359.57 L498.51,360.18 L499.87,360.77 L501.25,361.35 L502.62,361.93 L504.01,362.49 L505.39,363.04 L506.78,363.59 L508.18,364.12 L509.58,364.64 L510.98,365.16 L512.39,365.67 L513.80,366.16 L515.21,366.65 L516.63,367.13 L518.05,367.61 L519.47,368.07 L520.90,368.53 L522.33,368.98 L523.76,369.42 L525.20,369.85 L526.64,370.28 L528.08,370.70 L529.52,371.12 L530.96,371.52 L532.41,371.93 L533.86,372.32 L535.31,372.71 L536.77,373.10 L538.22,373.47 L539.68,373.85 L541.14,374.21 L542.59,374.58 L544.06,374.94 L545.52,375.29 L546.98,375.64 L548.44,375.99 L549.91,376.33 L551.37,376.66 L552.84,377.00 L554.30,377.33 L555.77,377.66 L557.23,377.98 L558.70,378.30 L560.17,378.62 L561.63,378.93 L563.10,379.24 L564.57,379.55 L566.04,379.85 L567.51,380.15 L568.97,380.45 L570.44,380.74 L571.91,381.03 L573.38,381.32 L574.85,381.60 L576.33,381.88 L577.80,382.15 L579.27,382.42 L580.74,382.69 L582.21,382.96 L583.69,383.22 L585.16,383.48 L586.64,383.73 L588.11,383.98 L589.59,384.23 L591.06,384.47 L592.54,384.71 L594.01,384.95 L595.49,385.18 L596.97,385.41 L598.45,385.64 L599.92,385.86 L601.40,386.08 L602.88,386.30 L604.36,386.51 L605.84,386.72 L607.32,386.92 L608.81,387.12 L610.29,387.32 L611.77,387.51 L613.25,387.70 L614.74,387.89 L616.22,388.07 L617.70,388.25 L619.19,388.43 L620.67,388.60 L622.16,388.77 L623.65,388.93 L625.13,389.10 L626.62,389.25 L628.11,389.41 L629.60,389.56 L631.09,389.70 L632.58,389.85 L634.07,389.99 L635.56,390.12 L637.05,390.26 L638.54,390.38 L640.04,390.51 L641.53,390.63 L643.02,390.75 L644.52,390.86 L646.01,390.97 L647.51,391.08 L649.00,391.18 L650.50,391.28 L652.00,391.37 L653.50,391.46 L655.00,391.55 L656.50,391.63 L657.99,391.71 L659.50,391.79 L661.00,391.86 L662.50,391.93 L664.00,392.00" stroke="#bc04bc"/>
<path d="M83.99,400.50 L97.40,398.17 L112.60,394.70 L127.80,388.15 L143.00,377.70 L158.20,362.52 L173.40,340.14 L188.60,306.01 L203.80,267.19 L219.00,236.70 L234.20,209.52 L249.40,189.23 L264.60,180.22 L279.80,180.79 L295.00,188.01 L310.20,199.27 L325.40,212.35 L340.60,229.81 L355.80,245.89 L371.00,260.66 L386.20,275.49 L401.40,290.62 L416.60,304.69 L431.80,316.95 L447.00,327.78 L462.20,337.56 L477.40,346.38 L492.60,354.18 L507.80,360.89 L523.00,366.50 L538.20,371.11 L553.40,374.83 L568.60,377.76 L583.80,380.11 L599.00,382.11 L614.20,384.02 L629.40,385.97 L644.60,387.75 L659.80,389.06 L664.00,389.30" stroke="#35a735"/>
<path d="M84.00,398.00 L99.40,392.89 L119.20,385.08 L139.00,373.76 L158.80,356.61 L178.60,331.58 L198.40,304.65 L218.20,269.25 L238.00,244.44 L257.80,227.33 L277.60,219.82 L297.40,219.07 L317.20,225.19 L337.00,234.58 L356.80,245.36 L376.60,258.06 L396.40,272.00 L416.20,285.78 L436.00,299.96 L455.80,314.22 L475.60,328.18 L495.40,341.40 L515.20,352.98 L535.00,361.92 L554.80,368.14 L574.60,372.81 L594.40,376.78 L614.20,380.19 L634.00,382.98 L653.80,385.14 L664.00,386.00" stroke="#606c7f"/>
<path d="M84.00,401.50 L85.55,401.53 L87.10,401.55 L88.63,401.57 L90.15,401.58 L91.66,401.58 L93.17,401.58 L94.66,401.58 L96.15,401.57 L97.63,401.56 L99.11,401.54 L100.58,401.53 L102.05,401.51 L103.52,401.49 L104.98,401.47 L106.45,401.44 L107.91,401.42 L109.37,401.40 L110.83,401.38 L112.30,401.36 L113.77,401.34 L115.24,401.33 L116.72,401.31 L118.20,401.31 L119.69,401.30 L121.19,401.30 L122.69,401.30 L124.20,401.31 L125.73,401.33 L127.26,401.35 L128.80,401.37 L130.35,401.41 L131.90,401.44 L133.45,401.48 L135.01,401.51 L136.56,401.55 L138.11,401.59 L139.65,401.60 L141.19,401.60 L142.72,401.60 L144.24,401.60 L145.74,401.60 L147.23,401.60 L148.70,401.60 L150.15,401.60 L151.59,401.60 L153.00,401.46 L154.38,401.19 L155.74,400.80 L157.07,400.27 L158.36,399.59 L159.63,398.77 L160.86,397.85 L162.06,396.87 L163.21,395.87 L164.33,394.84 L165.41,393.79 L166.46,392.72 L167.47,391.62 L168.45,390.51 L169.39,389.38 L170.31,388.23 L171.18,387.06 L172.03,385.87 L172.85,384.67 L173.64,383.44 L174.40,382.20 L175.13,380.95 L175.83,379.68 L176.51,378.40 L177.16,377.10 L177.79,375.78 L178.39,374.46 L178.97,373.12 L179.53,371.77 L180.06,370.40 L180.58,369.03 L181.07,367.64 L181.55,366.25 L182.00,364.84 L182.44,363.43 L182.86,362.01 L183.27,360.58 L183.66,359.14 L184.03,357.69 L184.39,356.24 L184.74,354.78 L185.07,353.32 L185.40,351.85 L185.71,350.38 L186.01,348.90 L186.31,347.42 L186.59,345.94 L186.87,344.45 L187.14,342.97 L187.41,341.48 L187.67,339.99 L187.92,338.50 L188.17,337.01 L188.42,335.52 L188.67,334.04 L188.92,332.55 L189.16,331.06 L189.41,329.57 L189.67,328.09 L189.92,326.60 L190.18,325.11 L190.45,323.63 L190.72,322.14 L191.00,320.66 L191.30,319.17 L191.60,317.69 L191.91,316.20 L192.23,314.72 L192.56,313.23 L192.89,311.75 L193.22,310.27 L193.55,308.78 L193.87,307.30 L194.19,305.82 L194.51,304.33 L194.81,302.85 L195.09,301.37 L195.37,299.89 L195.63,298.40 L195.89,296.92 L196.13,295.44 L196.36,293.96 L196.59,292.48 L196.80,291.00 L197.01,289.51 L197.21,288.03 L197.41,286.55 L197.60,285.07 L197.78,283.59 L197.96,282.11 L198.14,280.63 L198.31,279.15 L198.48,277.67 L198.65,276.19 L198.82,274.71 L198.98,273.23 L199.15,271.75 L199.32,270.27 L199.49,268.79 L199.66,267.31 L199.83,265.83 L200.00,264.36 L200.18,262.88 L200.36,261.40 L200.54,259.92 L200.72,258.44 L200.91,256.96 L201.10,255.48 L201.28,254.00 L201.47,252.52 L201.67,251.04 L201.86,249.57 L202.06,248.09 L202.25,246.61 L202.45,245.13 L202.65,243.65 L202.85,242.17 L203.06,240.69 L203.26,239.21 L203.47,237.74 L203.67,236.26 L203.88,234.78 L204.09,233.30 L204.30,231.82 L204.51,230.34 L204.72,228.86 L204.94,227.38 L205.15,225.90 L205.36,224.42 L205.58,222.94 L205.80,221.46 L206.01,219.98 L206.23,218.50 L206.45,217.02 L206.67,215.54 L206.88,214.06 L207.10,212.58 L207.32,211.10 L207.54,209.62 L207.76,208.14 L207.98,206.66 L208.20,205.18 L208.42,203.70 L208.64,202.22 L208.86,200.74 L209.08,199.26 L209.30,197.78 L209.52,196.29 L209.74,194.81 L209.96,193.33 L210.18,191.85 L210.40,190.36 L210.62,188.88 L210.84,187.40 L211.05,185.92 L211.27,184.43 L211.49,182.95 L211.71,181.47 L211.92,179.98 L212.14,178.50 L212.36,177.01 L212.58,175.53 L212.80,174.05 L213.02,172.56 L213.24,171.08 L213.46,169.60 L213.68,168.11 L213.90,166.63 L214.12,165.15 L214.35,163.66 L214.57,162.18 L214.80,160.70 L215.03,159.21 L215.25,157.73 L215.48,156.25 L215.72,154.77 L215.95,153.29 L216.18,151.80 L216.42,150.32 L216.66,148.84 L216.90,147.36 L217.14,145.88 L217.38,144.40 L217.63,142.92 L217.87,141.44 L218.12,139.96 L218.37,138.48 L218.63,137.00 L218.89,135.53 L219.14,134.05 L219.41,132.57 L219.67,131.10 L219.94,129.62 L220.21,128.15 L220.48,126.67 L220.75,125.20 L221.03,123.72 L221.31,122.25 L221.60,120.78 L221.89,119.31 L222.18,117.84 L222.47,116.37 L222.77,114.90 L223.07,113.43 L223.38,111.96 L223.69,110.49 L224.00,109.02 L224.32,107.56 L224.64,106.09 L224.96,104.63 L225.29,103.17 L225.62,101.71 L225.96,100.25 L226.30,98.79 L226.65,97.33 L227.00,95.87 L227.35,94.42 L227.71,92.96 L228.08,91.51 L228.44,90.06 L228.82,88.61 L229.20,87.16 L229.58,85.72 L229.97,84.27 L230.36,82.83 L230.76,81.39 L231.17,79.95 L231.58,78.51 L231.99,77.08 L232.41,75.64 L232.84,74.21 L233.27,72.78 L233.71,71.36 L234.15,69.93 L234.60,68.51 L235.06,67.09 L235.52,65.67 L235.98,64.25 L236.46,62.84 L236.94,61.43 L237.43,60.02 L237.92,58.62 L238.42,57.21 L238.92,55.81 L239.44,54.42 L239.96,53.02 L240.48,51.63 L241.02,50.24 L241.56,48.85 L242.11,47.47 L242.67,46.09 L243.26,44.71 L243.88,43.34 L244.54,41.97 L245.23,40.60 L245.98,39.24 L246.78,37.88 L247.64,36.52 L248.57,35.18 L249.55,33.86 L250.58,32.60 L251.66,31.41 L252.77,30.30 L253.92,29.30 L255.08,28.44 L256.27,27.72 L257.47,27.16 L258.67,26.80 L259.88,26.64 L261.07,26.70 L262.25,26.95 L263.42,27.40 L264.56,28.01 L265.68,28.77 L266.76,29.66 L267.81,30.67 L268.82,31.77 L269.78,32.96 L270.68,34.20 L271.54,35.50 L272.33,36.82 L273.08,38.18 L273.78,39.56 L274.44,40.96 L275.07,42.38 L275.67,43.81 L276.25,45.25 L276.81,46.69 L277.36,48.12 L277.90,49.56 L278.43,51.00 L278.95,52.43 L279.45,53.87 L279.95,55.31 L280.44,56.74 L280.91,58.17 L281.38,59.61 L281.84,61.04 L282.28,62.47 L282.73,63.91 L283.16,65.34 L283.58,66.77 L284.00,68.21 L284.41,69.64 L284.81,71.07 L285.21,72.51 L285.60,73.94 L285.99,75.37 L286.37,76.81 L286.74,78.24 L287.11,79.68 L287.48,81.11 L287.84,82.55 L288.20,83.99 L288.55,85.43 L288.90,86.87 L289.25,88.30 L289.59,89.75 L289.94,91.19 L290.28,92.63 L290.62,94.07 L290.95,95.52 L291.29,96.97 L291.63,98.41 L291.96,99.86 L292.30,101.31 L292.63,102.76 L292.97,104.22 L293.30,105.67 L293.64,107.13 L293.97,108.58 L294.31,110.04 L294.64,111.50 L294.98,112.96 L295.31,114.42 L295.65,115.88 L295.98,117.34 L296.32,118.80 L296.65,120.26 L296.99,121.72 L297.32,123.19 L297.66,124.65 L298.00,126.12 L298.34,127.58 L298.68,129.05 L299.02,130.51 L299.36,131.98 L299.70,133.44 L300.04,134.91 L300.38,136.38 L300.73,137.84 L301.07,139.31 L301.42,140.78 L301.77,142.24 L302.12,143.71 L302.47,145.18 L302.82,146.64 L303.17,148.11 L303.53,149.57 L303.88,151.04 L304.24,152.50 L304.60,153.97 L304.96,155.43 L305.32,156.89 L305.69,158.35 L306.05,159.82 L306.42,161.28 L306.79,162.74 L307.17,164.20 L307.54,165.65 L307.92,167.11 L308.30,168.57 L308.68,170.02 L309.06,171.48 L309.45,172.93 L309.84,174.38 L310.23,175.84 L310.63,177.29 L311.02,178.73 L311.42,180.18 L311.82,181.63 L312.23,183.07 L312.64,184.51 L313.05,185.96 L313.46,187.39 L313.88,188.83 L314.30,190.27 L314.72,191.70 L315.15,193.14 L315.58,194.57 L316.01,196.00 L316.45,197.42 L316.89,198.85 L317.33,200.27 L317.78,201.69 L318.23,203.11 L318.68,204.53 L319.14,205.94 L319.60,207.36 L320.07,208.77 L320.54,210.17 L321.01,211.58 L321.49,212.98 L321.97,214.38 L322.46,215.78 L322.95,217.18 L323.45,218.57 L323.96,219.96 L324.47,221.34 L324.99,222.73 L325.52,224.11 L326.05,225.49 L326.60,226.86 L327.15,228.24 L327.71,229.61 L328.29,230.97 L328.87,232.33 L329.46,233.69 L330.07,235.05 L330.69,236.41 L331.32,237.76 L331.96,239.10 L332.62,240.45 L333.29,241.78 L333.97,243.12 L334.67,244.45 L335.38,245.78 L336.10,247.11 L336.83,248.43 L337.57,249.75 L338.32,251.06 L339.09,252.37 L339.86,253.68 L340.64,254.98 L341.43,256.28 L342.23,257.57 L343.03,258.86 L343.85,260.15 L344.66,261.43 L345.49,262.71 L346.32,263.98 L347.15,265.25 L347.99,266.51 L348.83,267.77 L349.67,269.03 L350.52,270.28 L351.37,271.53 L352.22,272.77 L353.07,274.00 L353.93,275.24 L354.78,276.46 L355.63,277.69 L356.48,278.90 L357.34,280.12 L358.18,281.32 L359.03,282.53 L359.88,283.72 L360.72,284.92 L361.57,286.10 L362.41,287.29 L363.27,288.46 L364.13,289.63 L365.00,290.80 L365.89,291.96 L366.79,293.11 L367.71,294.26 L368.64,295.41 L369.60,296.55 L370.57,297.68 L371.55,298.81 L372.56,299.93 L373.57,301.04 L374.60,302.15 L375.64,303.25 L376.69,304.35 L377.75,305.44 L378.83,306.53 L379.90,307.61 L380.99,308.68 L382.08,309.75 L383.18,310.81 L384.28,311.86 L385.39,312.91 L386.50,313.95 L387.61,314.99 L388.72,316.02 L389.83,317.04 L390.94,318.06 L392.05,319.07 L393.17,320.07 L394.28,321.07 L395.40,322.07 L396.52,323.05 L397.64,324.04 L398.76,325.02 L399.88,325.99 L401.01,326.96 L402.14,327.93 L403.26,328.89 L404.40,329.85 L405.53,330.80 L406.67,331.75 L407.81,332.70 L408.95,333.64 L410.09,334.58 L411.24,335.52 L412.39,336.45 L413.54,337.39 L414.70,338.32 L415.86,339.24 L417.02,340.17 L418.19,341.09 L419.36,342.02 L420.54,342.94 L421.71,343.86 L422.89,344.78 L424.08,345.69 L425.27,346.60 L426.46,347.51 L427.66,348.42 L428.86,349.32 L430.07,350.22 L431.28,351.11 L432.50,351.99 L433.72,352.87 L434.95,353.75 L436.18,354.62 L437.41,355.48 L438.65,356.33 L439.90,357.17 L441.15,358.01 L442.41,358.83 L443.67,359.65 L444.94,360.46 L446.22,361.25 L447.50,362.04 L448.78,362.81 L450.08,363.57 L451.38,364.32 L452.68,365.06 L453.99,365.79 L455.31,366.50 L456.64,367.20 L457.97,367.88 L459.30,368.55 L460.65,369.21 L461.99,369.86 L463.35,370.50 L464.71,371.12 L466.07,371.73 L467.44,372.33 L468.81,372.92 L470.19,373.49 L471.58,374.06 L472.97,374.61 L474.36,375.15 L475.76,375.68 L477.16,376.20 L478.57,376.71 L479.98,377.21 L481.40,377.70 L482.82,378.17 L484.24,378.64 L485.67,379.09 L487.10,379.54 L488.53,379.97 L489.97,380.40 L491.41,380.81 L492.85,381.22 L494.30,381.62 L495.75,382.00 L497.20,382.38 L498.65,382.75 L500.11,383.11 L501.57,383.46 L503.03,383.80 L504.49,384.13 L505.96,384.46 L507.42,384.77 L508.89,385.08 L510.36,385.38 L511.83,385.67 L513.31,385.95 L514.78,386.23 L516.25,386.50 L517.73,386.76 L519.21,387.01 L520.68,387.25 L522.16,387.49 L523.64,387.72 L525.12,387.95 L526.60,388.17 L528.08,388.38 L529.56,388.58 L531.04,388.78 L532.53,388.98 L534.01,389.16 L535.49,389.34 L536.98,389.52 L538.46,389.69 L539.95,389.86 L541.43,390.02 L542.92,390.18 L544.41,390.33 L545.89,390.47 L547.38,390.62 L548.87,390.76 L550.36,390.89 L551.85,391.02 L553.34,391.15 L554.83,391.28 L556.32,391.40 L557.81,391.52 L559.30,391.63 L560.79,391.74 L562.28,391.85 L563.77,391.96 L565.27,392.07 L566.76,392.17 L568.25,392.27 L569.75,392.37 L571.24,392.47 L572.73,392.57 L574.23,392.67 L575.72,392.76 L577.22,392.86 L578.71,392.95 L580.21,393.04 L581.71,393.14 L583.20,393.23 L584.70,393.32 L586.19,393.41 L587.69,393.51 L589.19,393.60 L590.68,393.70 L592.18,393.79 L593.68,393.89 L595.18,393.99 L596.67,394.09 L598.17,394.19 L599.67,394.29 L601.17,394.39 L602.66,394.49 L604.16,394.59 L605.66,394.70 L607.16,394.80 L608.66,394.91 L610.15,395.01 L611.65,395.11 L613.15,395.22 L614.65,395.32 L616.15,395.42 L617.64,395.53 L619.14,395.63 L620.64,395.73 L622.14,395.83 L623.63,395.93 L625.13,396.03 L626.63,396.12 L628.13,396.22 L629.62,396.31 L631.12,396.41 L632.62,396.50 L634.11,396.58 L635.61,396.67 L637.11,396.76 L638.60,396.84 L640.10,396.92 L641.60,397.00 L643.09,397.07 L644.59,397.15 L646.08,397.22 L647.58,397.28 L649.07,397.35 L650.57,397.41 L652.06,397.47 L653.55,397.52 L655.05,397.57 L656.54,397.62 L658.03,397.66 L659.52,397.70 L661.02,397.74 L662.51,397.77 L664.00,397.80" stroke="#0000a4" stroke-dasharray="5.5,2.5"/>
<path d="M84.00,401.50 L85.49,401.53 L86.99,401.55 L88.48,401.56 L89.97,401.57 L91.47,401.57 L92.97,401.57 L94.46,401.57 L95.96,401.56 L97.46,401.54 L98.96,401.53 L100.46,401.51 L101.96,401.50 L103.46,401.48 L104.96,401.45 L106.47,401.43 L107.97,401.41 L109.47,401.39 L110.98,401.37 L112.48,401.35 L113.99,401.34 L115.49,401.32 L117.00,401.31 L118.51,401.30 L120.01,401.30 L121.52,401.30 L123.03,401.30 L124.53,401.31 L126.04,401.33 L127.55,401.35 L129.06,401.38 L130.56,401.41 L132.07,401.45 L133.57,401.49 L135.07,401.51 L136.57,401.52 L138.05,401.51 L139.52,401.47 L140.98,401.39 L142.42,401.26 L143.84,401.08 L145.24,400.84 L146.62,400.53 L147.98,400.14 L149.31,399.65 L150.61,399.06 L151.88,398.39 L153.13,397.63 L154.36,396.80 L155.56,395.92 L156.76,394.99 L157.93,394.03 L159.09,393.05 L160.24,392.04 L161.36,391.01 L162.47,389.96 L163.55,388.88 L164.60,387.79 L165.62,386.67 L166.62,385.54 L167.57,384.38 L168.49,383.21 L169.37,382.02 L170.22,380.81 L171.03,379.58 L171.81,378.34 L172.56,377.08 L173.28,375.80 L173.97,374.51 L174.65,373.21 L175.29,371.89 L175.92,370.56 L176.52,369.21 L177.11,367.86 L177.67,366.49 L178.22,365.11 L178.75,363.72 L179.27,362.33 L179.77,360.92 L180.26,359.51 L180.73,358.09 L181.20,356.66 L181.65,355.23 L182.09,353.79 L182.52,352.35 L182.95,350.91 L183.37,349.46 L183.78,348.01 L184.19,346.56 L184.60,345.11 L185.00,343.66 L185.40,342.21 L185.80,340.75 L186.19,339.30 L186.58,337.85 L186.97,336.40 L187.35,334.94 L187.74,333.49 L188.12,332.03 L188.50,330.58 L188.87,329.12 L189.25,327.67 L189.62,326.21 L189.99,324.76 L190.35,323.30 L190.72,321.84 L191.08,320.39 L191.44,318.93 L191.80,317.47 L192.16,316.02 L192.52,314.56 L192.87,313.10 L193.23,311.64 L193.58,310.18 L193.93,308.73 L194.28,307.27 L194.62,305.81 L194.97,304.35 L195.32,302.89 L195.66,301.43 L196.00,299.97 L196.34,298.51 L196.69,297.05 L197.03,295.59 L197.37,294.13 L197.70,292.67 L198.04,291.21 L198.38,289.75 L198.72,288.29 L199.05,286.83 L199.39,285.37 L199.73,283.90 L200.06,282.44 L200.40,280.98 L200.73,279.52 L201.06,278.06 L201.40,276.60 L201.73,275.13 L202.06,273.67 L202.39,272.21 L202.73,270.75 L203.06,269.29 L203.39,267.82 L203.72,266.36 L204.05,264.90 L204.37,263.44 L204.70,261.98 L205.03,260.51 L205.36,259.05 L205.68,257.59 L206.01,256.13 L206.33,254.66 L206.66,253.20 L206.98,251.74 L207.31,250.28 L207.63,248.82 L207.95,247.35 L208.27,245.89 L208.60,244.43 L208.92,242.97 L209.24,241.50 L209.56,240.04 L209.88,238.58 L210.19,237.12 L210.51,235.66 L210.83,234.20 L211.15,232.73 L211.46,231.27 L211.78,229.81 L212.09,228.35 L212.41,226.89 L212.72,225.43 L213.04,223.97 L213.35,222.51 L213.66,221.05 L213.98,219.59 L214.29,218.13 L214.61,216.67 L214.93,215.21 L215.24,213.75 L215.56,212.29 L215.88,210.83 L216.20,209.37 L216.53,207.92 L216.85,206.46 L217.18,205.00 L217.51,203.55 L217.84,202.09 L218.17,200.63 L218.51,199.18 L218.84,197.72 L219.19,196.27 L219.53,194.82 L219.88,193.37 L220.23,191.91 L220.58,190.46 L220.94,189.01 L221.31,187.56 L221.68,186.11 L222.06,184.66 L222.44,183.21 L222.82,181.77 L223.22,180.32 L223.62,178.87 L224.03,177.43 L224.44,175.99 L224.87,174.54 L225.30,173.10 L225.74,171.66 L226.19,170.22 L226.64,168.78 L227.11,167.34 L227.59,165.90 L228.08,164.46 L228.57,163.03 L229.08,161.59 L229.59,160.16 L230.11,158.73 L230.64,157.30 L231.17,155.87 L231.70,154.44 L232.24,153.01 L232.77,151.59 L233.31,150.17 L233.85,148.75 L234.38,147.33 L234.91,145.92 L235.44,144.50 L235.96,143.09 L236.48,141.69 L236.98,140.28 L237.49,138.88 L237.98,137.48 L238.46,136.08 L238.93,134.69 L239.39,133.30 L239.85,131.91 L240.31,130.53 L240.77,129.15 L241.24,127.78 L241.72,126.40 L242.21,125.04 L242.71,123.67 L243.24,122.31 L243.78,120.96 L244.36,119.60 L244.96,118.26 L245.59,116.91 L246.25,115.58 L246.94,114.24 L247.65,112.91 L248.37,111.59 L249.10,110.27 L249.84,108.96 L250.58,107.65 L251.32,106.35 L252.06,105.05 L252.80,103.75 L253.54,102.47 L254.29,101.18 L255.05,99.90 L255.81,98.62 L256.59,97.34 L257.37,96.06 L258.17,94.79 L258.99,93.52 L259.82,92.25 L260.67,90.97 L261.54,89.70 L262.44,88.43 L263.35,87.16 L264.29,85.89 L265.26,84.62 L266.26,83.37 L267.29,82.16 L268.36,81.01 L269.46,79.93 L270.61,78.94 L271.80,78.06 L273.03,77.31 L274.31,76.70 L275.62,76.25 L276.95,75.98 L278.30,75.91 L279.66,76.05 L281.01,76.39 L282.35,76.89 L283.67,77.54 L284.95,78.32 L286.19,79.20 L287.37,80.15 L288.49,81.17 L289.54,82.23 L290.52,83.33 L291.45,84.48 L292.33,85.66 L293.15,86.88 L293.92,88.13 L294.65,89.41 L295.35,90.73 L296.00,92.06 L296.63,93.42 L297.23,94.80 L297.80,96.19 L298.36,97.60 L298.90,99.02 L299.43,100.45 L299.95,101.88 L300.47,103.32 L300.99,104.76 L301.51,106.20 L302.04,107.63 L302.58,109.06 L303.13,110.48 L303.68,111.90 L304.23,113.32 L304.79,114.73 L305.34,116.14 L305.90,117.54 L306.46,118.95 L307.01,120.35 L307.55,121.75 L308.09,123.15 L308.62,124.55 L309.15,125.95 L309.66,127.35 L310.16,128.76 L310.64,130.16 L311.11,131.56 L311.57,132.97 L312.02,134.38 L312.47,135.79 L312.90,137.19 L313.33,138.61 L313.75,140.02 L314.18,141.43 L314.60,142.85 L315.02,144.26 L315.44,145.68 L315.86,147.09 L316.29,148.51 L316.73,149.93 L317.17,151.35 L317.62,152.77 L318.08,154.19 L318.55,155.61 L319.02,157.04 L319.51,158.46 L320.00,159.88 L320.49,161.31 L320.99,162.73 L321.49,164.16 L322.00,165.58 L322.51,167.01 L323.02,168.43 L323.54,169.86 L324.05,171.28 L324.57,172.71 L325.08,174.14 L325.59,175.56 L326.10,176.99 L326.61,178.42 L327.12,179.84 L327.62,181.27 L328.12,182.69 L328.61,184.12 L329.11,185.54 L329.60,186.97 L330.09,188.39 L330.57,189.82 L331.05,191.24 L331.53,192.67 L332.01,194.09 L332.49,195.51 L332.96,196.93 L333.43,198.35 L333.89,199.77 L334.36,201.19 L334.82,202.61 L335.27,204.03 L335.73,205.45 L336.19,206.86 L336.64,208.28 L337.10,209.69 L337.55,211.10 L338.01,212.52 L338.47,213.93 L338.93,215.34 L339.40,216.74 L339.87,218.15 L340.34,219.56 L340.82,220.96 L341.31,222.36 L341.80,223.76 L342.29,225.16 L342.80,226.56 L343.31,227.96 L343.84,229.35 L344.37,230.75 L344.91,232.14 L345.46,233.53 L346.01,234.92 L346.58,236.30 L347.16,237.68 L347.74,239.06 L348.33,240.44 L348.94,241.82 L349.55,243.19 L350.16,244.56 L350.79,245.92 L351.43,247.29 L352.07,248.65 L352.72,250.00 L353.38,251.36 L354.05,252.71 L354.73,254.05 L355.41,255.39 L356.11,256.73 L356.81,258.07 L357.52,259.40 L358.23,260.72 L358.96,262.04 L359.69,263.36 L360.44,264.67 L361.18,265.98 L361.94,267.28 L362.71,268.57 L363.48,269.87 L364.26,271.15 L365.05,272.43 L365.84,273.71 L366.65,274.98 L367.46,276.24 L368.28,277.50 L369.10,278.75 L369.94,280.00 L370.78,281.24 L371.63,282.47 L372.48,283.70 L373.34,284.92 L374.22,286.13 L375.10,287.34 L375.98,288.54 L376.88,289.73 L377.78,290.92 L378.70,292.10 L379.62,293.27 L380.55,294.43 L381.49,295.59 L382.44,296.73 L383.40,297.87 L384.37,299.00 L385.34,300.13 L386.33,301.24 L387.33,302.35 L388.34,303.45 L389.36,304.53 L390.39,305.61 L391.43,306.68 L392.48,307.75 L393.54,308.80 L394.61,309.85 L395.68,310.89 L396.77,311.92 L397.85,312.95 L398.95,313.98 L400.04,315.01 L401.14,316.03 L402.24,317.06 L403.33,318.08 L404.43,319.11 L405.52,320.14 L406.62,321.18 L407.70,322.22 L408.78,323.27 L409.86,324.32 L410.92,325.38 L411.98,326.45 L413.03,327.53 L414.07,328.62 L415.10,329.72 L416.12,330.82 L417.14,331.93 L418.16,333.04 L419.17,334.15 L420.18,335.26 L421.20,336.38 L422.21,337.49 L423.22,338.59 L424.24,339.69 L425.27,340.79 L426.30,341.87 L427.34,342.95 L428.38,344.01 L429.44,345.07 L430.51,346.11 L431.59,347.13 L432.69,348.14 L433.79,349.14 L434.92,350.11 L436.06,351.06 L437.22,351.99 L438.40,352.91 L439.59,353.80 L440.80,354.67 L442.02,355.53 L443.26,356.36 L444.50,357.18 L445.77,357.98 L447.04,358.77 L448.33,359.53 L449.63,360.28 L450.93,361.01 L452.25,361.72 L453.58,362.42 L454.92,363.11 L456.27,363.77 L457.62,364.42 L458.98,365.06 L460.35,365.68 L461.72,366.29 L463.10,366.88 L464.49,367.46 L465.88,368.03 L467.27,368.58 L468.67,369.12 L470.07,369.65 L471.48,370.16 L472.89,370.66 L474.30,371.15 L475.72,371.63 L477.14,372.10 L478.56,372.55 L479.99,373.00 L481.41,373.43 L482.85,373.86 L484.28,374.27 L485.72,374.68 L487.16,375.08 L488.61,375.46 L490.05,375.84 L491.50,376.21 L492.95,376.57 L494.40,376.93 L495.86,377.27 L497.32,377.61 L498.78,377.94 L500.24,378.27 L501.70,378.58 L503.17,378.90 L504.63,379.20 L506.10,379.50 L507.57,379.80 L509.04,380.09 L510.52,380.37 L511.99,380.65 L513.47,380.93 L514.94,381.20 L516.42,381.47 L517.90,381.74 L519.37,382.00 L520.85,382.26 L522.33,382.51 L523.81,382.77 L525.29,383.02 L526.77,383.27 L528.25,383.52 L529.73,383.76 L531.22,384.01 L532.70,384.25 L534.18,384.49 L535.66,384.73 L537.14,384.97 L538.63,385.20 L540.11,385.43 L541.59,385.66 L543.08,385.89 L544.56,386.11 L546.04,386.34 L547.53,386.56 L549.01,386.77 L550.50,386.99 L551.98,387.20 L553.47,387.41 L554.95,387.62 L556.44,387.82 L557.93,388.02 L559.41,388.22 L560.90,388.42 L562.39,388.61 L563.87,388.80 L565.36,388.99 L566.85,389.17 L568.34,389.35 L569.83,389.53 L571.31,389.71 L572.80,389.88 L574.29,390.05 L575.78,390.21 L577.27,390.37 L578.76,390.53 L580.25,390.69 L581.74,390.84 L583.23,390.99 L584.72,391.13 L586.21,391.27 L587.70,391.41 L589.19,391.54 L590.68,391.67 L592.18,391.80 L593.67,391.92 L595.16,392.04 L596.65,392.15 L598.15,392.26 L599.64,392.37 L601.13,392.47 L602.62,392.57 L604.12,392.67 L605.61,392.76 L607.10,392.86 L608.60,392.95 L610.09,393.03 L611.59,393.12 L613.08,393.20 L614.58,393.28 L616.07,393.36 L617.57,393.44 L619.06,393.51 L620.56,393.59 L622.05,393.66 L623.55,393.73 L625.04,393.80 L626.54,393.87 L628.04,393.94 L629.53,394.01 L631.03,394.08 L632.53,394.15 L634.02,394.22 L635.52,394.28 L637.02,394.35 L638.52,394.42 L640.01,394.49 L641.51,394.56 L643.01,394.63 L644.51,394.71 L646.01,394.78 L647.51,394.85 L649.00,394.93 L650.50,395.01 L652.00,395.09 L653.50,395.17 L655.00,395.25 L656.50,395.34 L658.00,395.43 L659.50,395.52 L661.00,395.61 L662.50,395.70 L664.00,395.80" stroke="#b00000" stroke-dasharray="5.5,2.5"/>
<path d="M84.00,401.50 L85.43,401.49 L86.88,401.48 L88.34,401.48 L89.81,401.49 L91.29,401.50 L92.78,401.51 L94.27,401.53 L95.78,401.54 L97.29,401.55 L98.80,401.56 L100.33,401.56 L101.85,401.55 L103.38,401.54 L104.91,401.52 L106.44,401.49 L107.97,401.44 L109.50,401.39 L111.03,401.31 L112.56,401.22 L114.08,401.12 L115.59,400.99 L117.11,400.85 L118.61,400.68 L120.11,400.49 L121.60,400.27 L123.08,400.03 L124.55,399.76 L126.01,399.46 L127.46,399.13 L128.90,398.77 L130.32,398.37 L131.73,397.94 L133.12,397.48 L134.49,396.97 L135.85,396.43 L137.19,395.85 L138.51,395.22 L139.81,394.55 L141.09,393.84 L142.35,393.09 L143.58,392.30 L144.80,391.47 L146.00,390.60 L147.18,389.70 L148.34,388.77 L149.48,387.80 L150.60,386.81 L151.70,385.79 L152.78,384.74 L153.84,383.67 L154.88,382.57 L155.90,381.46 L156.91,380.32 L157.90,379.17 L158.87,378.00 L159.82,376.82 L160.75,375.62 L161.66,374.41 L162.56,373.20 L163.44,371.96 L164.30,370.72 L165.14,369.47 L165.97,368.21 L166.78,366.94 L167.57,365.66 L168.34,364.37 L169.10,363.07 L169.84,361.77 L170.57,360.45 L171.28,359.13 L171.97,357.80 L172.65,356.47 L173.31,355.13 L173.95,353.78 L174.58,352.43 L175.20,351.07 L175.80,349.71 L176.38,348.34 L176.96,346.97 L177.52,345.59 L178.07,344.21 L178.60,342.83 L179.13,341.44 L179.64,340.04 L180.15,338.64 L180.64,337.24 L181.13,335.83 L181.61,334.43 L182.08,333.01 L182.54,331.60 L183.00,330.18 L183.45,328.76 L183.89,327.33 L184.33,325.91 L184.76,324.48 L185.19,323.05 L185.62,321.62 L186.04,320.19 L186.46,318.75 L186.88,317.31 L187.29,315.88 L187.71,314.44 L188.12,313.00 L188.54,311.56 L188.95,310.12 L189.37,308.68 L189.79,307.23 L190.21,305.79 L190.63,304.35 L191.06,302.91 L191.49,301.47 L191.92,300.03 L192.36,298.59 L192.80,297.15 L193.25,295.72 L193.71,294.28 L194.17,292.85 L194.64,291.41 L195.12,289.98 L195.60,288.55 L196.08,287.12 L196.57,285.70 L197.06,284.27 L197.56,282.84 L198.06,281.42 L198.56,279.99 L199.07,278.57 L199.58,277.15 L200.09,275.73 L200.60,274.31 L201.11,272.89 L201.63,271.47 L202.14,270.05 L202.66,268.63 L203.18,267.21 L203.69,265.80 L204.21,264.38 L204.72,262.96 L205.23,261.55 L205.75,260.13 L206.25,258.72 L206.76,257.30 L207.27,255.89 L207.77,254.47 L208.27,253.06 L208.76,251.65 L209.25,250.23 L209.74,248.82 L210.22,247.40 L210.70,245.99 L211.17,244.58 L211.63,243.16 L212.09,241.75 L212.55,240.33 L212.99,238.92 L213.43,237.50 L213.87,236.08 L214.30,234.67 L214.73,233.25 L215.15,231.84 L215.57,230.42 L215.99,229.00 L216.41,227.59 L216.82,226.17 L217.24,224.75 L217.66,223.33 L218.08,221.92 L218.51,220.50 L218.93,219.08 L219.36,217.66 L219.80,216.24 L220.24,214.83 L220.68,213.41 L221.14,211.99 L221.60,210.57 L222.06,209.15 L222.54,207.73 L223.02,206.32 L223.51,204.90 L224.01,203.48 L224.52,202.06 L225.03,200.64 L225.54,199.23 L226.06,197.81 L226.59,196.39 L227.12,194.98 L227.65,193.56 L228.19,192.14 L228.73,190.72 L229.28,189.31 L229.82,187.89 L230.37,186.48 L230.93,185.06 L231.48,183.64 L232.04,182.23 L232.59,180.81 L233.15,179.40 L233.71,177.99 L234.27,176.58 L234.84,175.17 L235.41,173.76 L235.98,172.36 L236.56,170.95 L237.14,169.56 L237.72,168.16 L238.31,166.77 L238.91,165.39 L239.52,164.01 L240.13,162.64 L240.75,161.27 L241.38,159.91 L242.01,158.56 L242.66,157.21 L243.31,155.87 L243.98,154.54 L244.65,153.22 L245.34,151.91 L246.04,150.61 L246.75,149.31 L247.48,148.03 L248.23,146.76 L249.00,145.50 L249.79,144.25 L250.60,143.01 L251.43,141.79 L252.29,140.58 L253.17,139.38 L254.09,138.19 L255.03,137.02 L256.01,135.87 L257.02,134.73 L258.06,133.60 L259.14,132.49 L260.25,131.41 L261.39,130.36 L262.56,129.35 L263.75,128.39 L264.97,127.47 L266.21,126.62 L267.47,125.84 L268.75,125.12 L270.04,124.49 L271.35,123.94 L272.66,123.49 L273.99,123.14 L275.32,122.90 L276.66,122.77 L278.00,122.76 L279.34,122.89 L280.67,123.13 L282.01,123.49 L283.33,123.96 L284.64,124.52 L285.94,125.19 L287.22,125.93 L288.49,126.75 L289.73,127.65 L290.94,128.60 L292.13,129.61 L293.29,130.67 L294.42,131.76 L295.53,132.89 L296.60,134.04 L297.65,135.21 L298.66,136.38 L299.65,137.57 L300.61,138.77 L301.55,139.97 L302.45,141.18 L303.34,142.40 L304.20,143.63 L305.04,144.87 L305.86,146.11 L306.66,147.36 L307.45,148.62 L308.21,149.88 L308.96,151.15 L309.70,152.43 L310.43,153.71 L311.14,155.00 L311.85,156.29 L312.54,157.59 L313.23,158.89 L313.91,160.20 L314.58,161.52 L315.25,162.83 L315.92,164.15 L316.59,165.48 L317.25,166.81 L317.92,168.14 L318.59,169.47 L319.26,170.81 L319.94,172.15 L320.62,173.50 L321.31,174.84 L322.00,176.19 L322.70,177.54 L323.40,178.89 L324.10,180.24 L324.80,181.59 L325.50,182.95 L326.19,184.31 L326.89,185.66 L327.58,187.02 L328.27,188.38 L328.96,189.75 L329.63,191.11 L330.30,192.47 L330.97,193.84 L331.62,195.21 L332.27,196.57 L332.91,197.94 L333.54,199.31 L334.17,200.68 L334.79,202.04 L335.41,203.41 L336.02,204.78 L336.63,206.15 L337.23,207.52 L337.84,208.89 L338.44,210.26 L339.04,211.63 L339.63,212.99 L340.23,214.36 L340.83,215.73 L341.43,217.09 L342.03,218.46 L342.63,219.82 L343.23,221.19 L343.83,222.55 L344.44,223.91 L345.05,225.27 L345.66,226.63 L346.28,227.98 L346.90,229.34 L347.52,230.69 L348.15,232.04 L348.78,233.39 L349.41,234.74 L350.05,236.09 L350.69,237.43 L351.34,238.78 L351.99,240.12 L352.65,241.45 L353.31,242.79 L353.98,244.12 L354.65,245.45 L355.33,246.78 L356.02,248.10 L356.71,249.42 L357.40,250.74 L358.11,252.06 L358.82,253.37 L359.54,254.68 L360.26,255.98 L361.00,257.28 L361.74,258.58 L362.49,259.88 L363.24,261.17 L364.00,262.45 L364.78,263.74 L365.55,265.02 L366.34,266.29 L367.13,267.56 L367.93,268.83 L368.74,270.09 L369.56,271.35 L370.38,272.60 L371.21,273.85 L372.05,275.10 L372.90,276.34 L373.75,277.58 L374.61,278.81 L375.47,280.03 L376.35,281.25 L377.23,282.47 L378.12,283.68 L379.01,284.89 L379.92,286.09 L380.83,287.28 L381.74,288.47 L382.67,289.66 L383.60,290.84 L384.54,292.01 L385.48,293.18 L386.44,294.34 L387.40,295.50 L388.36,296.65 L389.34,297.80 L390.32,298.94 L391.30,300.07 L392.30,301.20 L393.30,302.32 L394.31,303.43 L395.32,304.54 L396.34,305.64 L397.37,306.74 L398.40,307.83 L399.45,308.91 L400.49,309.98 L401.55,311.05 L402.61,312.11 L403.68,313.17 L404.75,314.22 L405.83,315.26 L406.92,316.29 L408.02,317.32 L409.12,318.33 L410.22,319.35 L411.34,320.35 L412.46,321.35 L413.58,322.33 L414.72,323.32 L415.86,324.29 L417.00,325.25 L418.15,326.21 L419.31,327.16 L420.48,328.10 L421.65,329.04 L422.83,329.96 L424.01,330.88 L425.20,331.79 L426.39,332.69 L427.60,333.58 L428.80,334.47 L430.02,335.34 L431.24,336.21 L432.46,337.07 L433.69,337.92 L434.93,338.77 L436.17,339.60 L437.42,340.43 L438.67,341.25 L439.93,342.06 L441.19,342.86 L442.46,343.65 L443.73,344.44 L445.01,345.22 L446.29,345.99 L447.58,346.75 L448.88,347.50 L450.17,348.24 L451.48,348.98 L452.79,349.71 L454.10,350.43 L455.41,351.14 L456.74,351.85 L458.06,352.54 L459.39,353.23 L460.73,353.91 L462.07,354.58 L463.41,355.24 L464.76,355.89 L466.11,356.54 L467.46,357.18 L468.82,357.81 L470.19,358.43 L471.55,359.04 L472.92,359.65 L474.30,360.24 L475.67,360.83 L477.06,361.41 L478.44,361.98 L479.83,362.55 L481.22,363.10 L482.62,363.65 L484.01,364.19 L485.41,364.72 L486.82,365.24 L488.23,365.76 L489.64,366.26 L491.05,366.76 L492.47,367.25 L493.88,367.73 L495.31,368.21 L496.73,368.68 L498.16,369.14 L499.59,369.59 L501.02,370.04 L502.45,370.48 L503.89,370.91 L505.33,371.33 L506.77,371.75 L508.21,372.16 L509.65,372.57 L511.10,372.96 L512.55,373.35 L514.00,373.74 L515.45,374.12 L516.91,374.49 L518.36,374.85 L519.82,375.21 L521.28,375.57 L522.74,375.91 L524.20,376.25 L525.66,376.59 L527.13,376.92 L528.59,377.24 L530.06,377.56 L531.53,377.87 L533.00,378.18 L534.47,378.48 L535.94,378.78 L537.41,379.07 L538.88,379.36 L540.35,379.64 L541.83,379.92 L543.30,380.19 L544.78,380.46 L546.25,380.72 L547.73,380.98 L549.20,381.23 L550.68,381.48 L552.16,381.73 L553.64,381.97 L555.12,382.20 L556.60,382.43 L558.08,382.66 L559.56,382.88 L561.04,383.10 L562.52,383.32 L564.01,383.53 L565.49,383.74 L566.97,383.94 L568.46,384.14 L569.94,384.34 L571.43,384.53 L572.91,384.72 L574.40,384.91 L575.88,385.09 L577.37,385.27 L578.86,385.45 L580.35,385.62 L581.83,385.79 L583.32,385.96 L584.81,386.13 L586.30,386.29 L587.79,386.45 L589.28,386.60 L590.77,386.76 L592.26,386.91 L593.75,387.06 L595.24,387.20 L596.73,387.35 L598.23,387.49 L599.72,387.63 L601.21,387.77 L602.70,387.90 L604.20,388.03 L605.69,388.17 L607.18,388.30 L608.68,388.42 L610.17,388.55 L611.67,388.67 L613.16,388.80 L614.65,388.92 L616.15,389.04 L617.64,389.15 L619.14,389.27 L620.63,389.39 L622.13,389.50 L623.62,389.61 L625.12,389.73 L626.61,389.84 L628.11,389.95 L629.61,390.06 L631.10,390.17 L632.60,390.28 L634.09,390.38 L635.59,390.49 L637.08,390.60 L638.58,390.70 L640.08,390.81 L641.57,390.91 L643.07,391.02 L644.56,391.12 L646.06,391.23 L647.55,391.33 L649.05,391.44 L650.55,391.54 L652.04,391.65 L653.54,391.75 L655.03,391.86 L656.53,391.97 L658.02,392.07 L659.52,392.18 L661.01,392.29 L662.51,392.40 L664.00,392.50" stroke="#000" stroke-dasharray="5.5,2.5"/>
<path d="M84.00,401.40 L85.47,401.35 L86.95,401.30 L88.43,401.26 L89.92,401.22 L91.41,401.19 L92.91,401.15 L94.41,401.11 L95.92,401.07 L97.42,401.02 L98.93,400.96 L100.44,400.89 L101.95,400.81 L103.46,400.72 L104.96,400.61 L106.47,400.47 L107.97,400.32 L109.46,400.15 L110.96,399.95 L112.44,399.72 L113.92,399.47 L115.39,399.19 L116.86,398.87 L118.32,398.52 L119.76,398.13 L121.20,397.71 L122.63,397.25 L124.04,396.76 L125.45,396.24 L126.84,395.68 L128.22,395.09 L129.58,394.47 L130.92,393.82 L132.26,393.14 L133.57,392.43 L134.87,391.69 L136.14,390.92 L137.40,390.13 L138.64,389.31 L139.86,388.46 L141.06,387.58 L142.24,386.68 L143.40,385.76 L144.53,384.81 L145.65,383.84 L146.75,382.85 L147.83,381.84 L148.89,380.80 L149.93,379.75 L150.95,378.67 L151.95,377.58 L152.94,376.46 L153.91,375.33 L154.87,374.19 L155.81,373.02 L156.73,371.84 L157.63,370.65 L158.52,369.44 L159.40,368.21 L160.26,366.98 L161.11,365.73 L161.94,364.47 L162.76,363.20 L163.57,361.91 L164.36,360.62 L165.14,359.32 L165.91,358.01 L166.66,356.69 L167.41,355.37 L168.14,354.04 L168.87,352.70 L169.58,351.36 L170.28,350.01 L170.97,348.66 L171.66,347.30 L172.33,345.95 L173.00,344.59 L173.65,343.23 L174.30,341.87 L174.94,340.51 L175.58,339.15 L176.20,337.79 L176.82,336.43 L177.44,335.07 L178.05,333.71 L178.65,332.35 L179.25,330.99 L179.84,329.62 L180.44,328.26 L181.02,326.90 L181.61,325.54 L182.19,324.18 L182.77,322.82 L183.34,321.46 L183.92,320.10 L184.49,318.74 L185.07,317.38 L185.64,316.02 L186.22,314.65 L186.79,313.29 L187.37,311.93 L187.95,310.57 L188.53,309.21 L189.11,307.84 L189.69,306.48 L190.28,305.12 L190.87,303.75 L191.47,302.39 L192.07,301.02 L192.68,299.66 L193.29,298.29 L193.90,296.93 L194.53,295.56 L195.16,294.20 L195.79,292.83 L196.44,291.46 L197.08,290.10 L197.74,288.73 L198.40,287.36 L199.06,285.99 L199.72,284.62 L200.39,283.25 L201.05,281.88 L201.71,280.51 L202.37,279.14 L203.03,277.77 L203.68,276.40 L204.33,275.02 L204.97,273.65 L205.61,272.28 L206.23,270.90 L206.85,269.53 L207.45,268.15 L208.05,266.77 L208.63,265.40 L209.20,264.02 L209.76,262.64 L210.31,261.26 L210.85,259.88 L211.39,258.50 L211.92,257.12 L212.44,255.74 L212.96,254.35 L213.47,252.97 L213.98,251.58 L214.49,250.20 L215.00,248.81 L215.51,247.42 L216.02,246.04 L216.53,244.65 L217.05,243.26 L217.57,241.87 L218.09,240.47 L218.62,239.08 L219.15,237.69 L219.68,236.30 L220.22,234.91 L220.76,233.52 L221.31,232.13 L221.86,230.73 L222.41,229.35 L222.97,227.96 L223.53,226.57 L224.09,225.18 L224.65,223.80 L225.22,222.41 L225.78,221.03 L226.34,219.65 L226.91,218.28 L227.47,216.90 L228.04,215.53 L228.62,214.16 L229.19,212.79 L229.78,211.42 L230.37,210.06 L230.97,208.70 L231.59,207.35 L232.21,206.00 L232.84,204.65 L233.49,203.30 L234.15,201.96 L234.81,200.62 L235.48,199.29 L236.16,197.95 L236.84,196.62 L237.52,195.28 L238.20,193.95 L238.88,192.61 L239.56,191.28 L240.23,189.94 L240.90,188.60 L241.55,187.26 L242.20,185.92 L242.83,184.57 L243.45,183.22 L244.05,181.87 L244.64,180.51 L245.21,179.14 L245.78,177.77 L246.34,176.41 L246.90,175.04 L247.46,173.67 L248.02,172.30 L248.59,170.94 L249.18,169.58 L249.78,168.23 L250.40,166.88 L251.05,165.54 L251.72,164.21 L252.42,162.89 L253.16,161.58 L253.94,160.28 L254.75,158.99 L255.61,157.72 L256.50,156.47 L257.43,155.24 L258.39,154.04 L259.39,152.87 L260.42,151.72 L261.48,150.61 L262.58,149.54 L263.70,148.50 L264.86,147.51 L266.04,146.56 L267.26,145.66 L268.50,144.81 L269.76,144.01 L271.05,143.27 L272.37,142.59 L273.71,141.97 L275.07,141.41 L276.45,140.92 L277.85,140.52 L279.26,140.21 L280.68,140.02 L282.11,139.94 L283.54,139.99 L284.96,140.18 L286.39,140.50 L287.80,140.92 L289.21,141.44 L290.59,142.04 L291.96,142.71 L293.31,143.45 L294.63,144.23 L295.92,145.05 L297.18,145.89 L298.41,146.76 L299.61,147.66 L300.78,148.58 L301.93,149.53 L303.04,150.50 L304.14,151.50 L305.21,152.51 L306.25,153.55 L307.28,154.61 L308.28,155.69 L309.26,156.78 L310.22,157.90 L311.16,159.03 L312.09,160.17 L313.00,161.34 L313.89,162.51 L314.77,163.70 L315.64,164.91 L316.49,166.12 L317.33,167.35 L318.16,168.58 L318.98,169.83 L319.79,171.08 L320.59,172.34 L321.39,173.61 L322.18,174.89 L322.97,176.17 L323.75,177.45 L324.53,178.74 L325.30,180.03 L326.07,181.32 L326.84,182.61 L327.61,183.91 L328.38,185.21 L329.14,186.51 L329.90,187.82 L330.66,189.13 L331.42,190.43 L332.17,191.74 L332.92,193.06 L333.67,194.37 L334.42,195.68 L335.16,197.00 L335.90,198.32 L336.64,199.64 L337.38,200.96 L338.11,202.28 L338.84,203.60 L339.57,204.92 L340.29,206.25 L341.01,207.57 L341.73,208.89 L342.45,210.22 L343.16,211.54 L343.87,212.87 L344.58,214.19 L345.28,215.52 L345.99,216.84 L346.69,218.17 L347.39,219.49 L348.08,220.82 L348.78,222.14 L349.47,223.46 L350.17,224.78 L350.86,226.10 L351.56,227.42 L352.25,228.74 L352.95,230.06 L353.65,231.38 L354.34,232.69 L355.04,234.00 L355.75,235.32 L356.45,236.63 L357.16,237.93 L357.87,239.24 L358.58,240.54 L359.29,241.85 L360.01,243.15 L360.74,244.44 L361.47,245.74 L362.20,247.03 L362.94,248.32 L363.68,249.61 L364.43,250.89 L365.18,252.17 L365.94,253.45 L366.71,254.73 L367.49,256.00 L368.27,257.27 L369.06,258.53 L369.85,259.79 L370.65,261.05 L371.46,262.30 L372.28,263.56 L373.10,264.80 L373.93,266.05 L374.77,267.29 L375.61,268.52 L376.46,269.75 L377.32,270.98 L378.18,272.21 L379.05,273.43 L379.92,274.65 L380.80,275.86 L381.69,277.07 L382.58,278.27 L383.48,279.48 L384.39,280.67 L385.30,281.87 L386.21,283.06 L387.14,284.24 L388.07,285.42 L389.00,286.60 L389.94,287.77 L390.88,288.94 L391.84,290.10 L392.79,291.26 L393.75,292.42 L394.72,293.57 L395.69,294.71 L396.67,295.85 L397.65,296.99 L398.64,298.12 L399.63,299.25 L400.63,300.37 L401.63,301.49 L402.64,302.60 L403.65,303.71 L404.67,304.82 L405.69,305.92 L406.72,307.01 L407.75,308.10 L408.79,309.18 L409.83,310.26 L410.87,311.34 L411.92,312.41 L412.98,313.47 L414.04,314.53 L415.11,315.59 L416.18,316.63 L417.26,317.68 L418.34,318.72 L419.42,319.75 L420.51,320.78 L421.61,321.80 L422.71,322.82 L423.81,323.83 L424.92,324.84 L426.04,325.84 L427.16,326.83 L428.28,327.82 L429.41,328.80 L430.55,329.78 L431.69,330.76 L432.83,331.72 L433.98,332.68 L435.14,333.64 L436.30,334.59 L437.46,335.53 L438.63,336.47 L439.80,337.40 L440.98,338.33 L442.17,339.25 L443.36,340.16 L444.55,341.07 L445.75,341.97 L446.95,342.86 L448.16,343.75 L449.37,344.63 L450.59,345.50 L451.82,346.36 L453.05,347.22 L454.28,348.07 L455.52,348.91 L456.76,349.74 L458.01,350.57 L459.27,351.38 L460.52,352.19 L461.79,352.99 L463.06,353.78 L464.33,354.56 L465.61,355.33 L466.90,356.09 L468.19,356.84 L469.48,357.58 L470.79,358.31 L472.09,359.03 L473.40,359.75 L474.72,360.45 L476.04,361.13 L477.37,361.81 L478.70,362.48 L480.04,363.14 L481.38,363.78 L482.73,364.41 L484.09,365.04 L485.45,365.64 L486.81,366.24 L488.18,366.83 L489.56,367.40 L490.94,367.96 L492.33,368.51 L493.72,369.04 L495.12,369.56 L496.52,370.07 L497.93,370.57 L499.34,371.05 L500.76,371.53 L502.18,371.99 L503.60,372.44 L505.03,372.88 L506.47,373.31 L507.91,373.73 L509.35,374.14 L510.79,374.53 L512.24,374.92 L513.70,375.30 L515.15,375.67 L516.61,376.03 L518.07,376.38 L519.54,376.72 L521.00,377.05 L522.47,377.37 L523.94,377.69 L525.42,378.00 L526.89,378.30 L528.37,378.59 L529.85,378.88 L531.33,379.16 L532.81,379.43 L534.30,379.69 L535.78,379.95 L537.26,380.20 L538.75,380.45 L540.24,380.69 L541.72,380.92 L543.21,381.15 L544.70,381.37 L546.19,381.59 L547.67,381.81 L549.16,382.02 L550.65,382.22 L552.14,382.42 L553.62,382.62 L555.11,382.81 L556.60,383.00 L558.09,383.18 L559.58,383.36 L561.06,383.54 L562.55,383.71 L564.04,383.88 L565.53,384.05 L567.01,384.21 L568.50,384.37 L569.99,384.53 L571.48,384.68 L572.96,384.83 L574.45,384.98 L575.94,385.13 L577.43,385.28 L578.92,385.42 L580.40,385.56 L581.89,385.70 L583.38,385.84 L584.87,385.97 L586.36,386.11 L587.85,386.24 L589.34,386.37 L590.82,386.51 L592.31,386.64 L593.80,386.77 L595.29,386.89 L596.78,387.02 L598.27,387.15 L599.76,387.28 L601.25,387.41 L602.74,387.53 L604.23,387.66 L605.72,387.79 L607.21,387.92 L608.70,388.05 L610.19,388.18 L611.68,388.31 L613.17,388.44 L614.66,388.57 L616.16,388.70 L617.65,388.83 L619.14,388.96 L620.63,389.09 L622.12,389.22 L623.62,389.35 L625.11,389.48 L626.60,389.61 L628.09,389.73 L629.59,389.86 L631.08,389.98 L632.57,390.11 L634.07,390.23 L635.56,390.35 L637.06,390.47 L638.55,390.59 L640.05,390.70 L641.54,390.81 L643.04,390.93 L644.53,391.03 L646.03,391.14 L647.52,391.25 L649.02,391.35 L650.52,391.45 L652.01,391.54 L653.51,391.64 L655.01,391.73 L656.51,391.81 L658.00,391.90 L659.50,391.98 L661.00,392.06 L662.50,392.13 L664.00,392.20" stroke="#bc04bc" stroke-dasharray="5.5,2.5"/>
<path d="M84.00,400.80 L85.47,400.48 L86.94,400.18 L88.41,399.89 L89.89,399.62 L91.37,399.35 L92.85,399.10 L94.33,398.85 L95.81,398.61 L97.29,398.36 L98.77,398.12 L100.25,397.87 L101.73,397.61 L103.20,397.35 L104.67,397.07 L106.14,396.78 L107.60,396.48 L109.05,396.15 L110.50,395.80 L111.94,395.43 L113.38,395.03 L114.80,394.60 L116.22,394.15 L117.63,393.66 L119.03,393.14 L120.42,392.60 L121.79,392.03 L123.16,391.42 L124.51,390.79 L125.85,390.14 L127.17,389.45 L128.48,388.73 L129.78,387.99 L131.05,387.22 L132.32,386.42 L133.56,385.60 L134.80,384.75 L136.01,383.87 L137.21,382.97 L138.40,382.05 L139.57,381.11 L140.72,380.15 L141.86,379.17 L142.99,378.17 L144.10,377.15 L145.20,376.12 L146.29,375.07 L147.36,374.01 L148.42,372.94 L149.46,371.85 L150.50,370.75 L151.52,369.64 L152.53,368.52 L153.53,367.40 L154.51,366.27 L155.49,365.13 L156.45,363.98 L157.40,362.83 L158.34,361.67 L159.28,360.51 L160.20,359.34 L161.11,358.16 L162.01,356.98 L162.90,355.79 L163.78,354.59 L164.65,353.39 L165.52,352.18 L166.37,350.97 L167.22,349.74 L168.06,348.52 L168.89,347.28 L169.71,346.04 L170.52,344.79 L171.33,343.54 L172.13,342.28 L172.92,341.01 L173.70,339.74 L174.48,338.46 L175.24,337.17 L176.00,335.88 L176.75,334.58 L177.48,333.27 L178.21,331.96 L178.93,330.64 L179.63,329.32 L180.33,327.99 L181.01,326.65 L181.69,325.31 L182.35,323.96 L183.00,322.61 L183.64,321.25 L184.26,319.88 L184.88,318.51 L185.48,317.13 L186.06,315.75 L186.64,314.36 L187.20,312.96 L187.74,311.56 L188.28,310.16 L188.80,308.74 L189.30,307.33 L189.79,305.90 L190.26,304.47 L190.72,303.04 L191.17,301.60 L191.61,300.16 L192.05,298.72 L192.49,297.29 L192.94,295.86 L193.40,294.44 L193.89,293.04 L194.40,291.65 L194.94,290.27 L195.51,288.92 L196.13,287.59 L196.80,286.29 L197.51,285.02 L198.29,283.77 L199.12,282.56 L200.01,281.38 L200.94,280.21 L201.91,279.05 L202.88,277.88 L203.83,276.71 L204.73,275.51 L205.56,274.29 L206.34,273.05 L207.06,271.79 L207.75,270.51 L208.41,269.22 L209.05,267.91 L209.67,266.60 L210.29,265.28 L210.90,263.95 L211.50,262.62 L212.10,261.28 L212.70,259.93 L213.29,258.58 L213.88,257.23 L214.46,255.87 L215.05,254.50 L215.63,253.14 L216.21,251.76 L216.80,250.39 L217.38,249.02 L217.96,247.64 L218.54,246.26 L219.12,244.88 L219.71,243.50 L220.29,242.11 L220.88,240.73 L221.47,239.35 L222.07,237.97 L222.67,236.59 L223.27,235.22 L223.88,233.84 L224.49,232.47 L225.11,231.10 L225.74,229.73 L226.37,228.37 L227.01,227.01 L227.65,225.66 L228.31,224.31 L228.97,222.96 L229.64,221.63 L230.33,220.29 L231.02,218.97 L231.72,217.65 L232.42,216.33 L233.14,215.02 L233.86,213.72 L234.59,212.42 L235.33,211.12 L236.08,209.83 L236.83,208.55 L237.58,207.26 L238.35,205.98 L239.12,204.71 L239.89,203.44 L240.67,202.17 L241.45,200.90 L242.24,199.64 L243.03,198.38 L243.83,197.13 L244.63,195.87 L245.43,194.62 L246.24,193.37 L247.05,192.12 L247.86,190.87 L248.67,189.62 L249.48,188.38 L250.30,187.13 L251.12,185.89 L251.93,184.65 L252.75,183.40 L253.57,182.16 L254.39,180.92 L255.23,179.69 L256.07,178.47 L256.92,177.25 L257.79,176.05 L258.68,174.87 L259.59,173.70 L260.53,172.55 L261.49,171.43 L262.49,170.33 L263.52,169.26 L264.59,168.22 L265.69,167.21 L266.84,166.23 L268.04,165.30 L269.29,164.40 L270.57,163.54 L271.90,162.73 L273.26,161.97 L274.66,161.25 L276.07,160.59 L277.51,159.97 L278.96,159.42 L280.42,158.92 L281.89,158.50 L283.36,158.16 L284.83,157.90 L286.29,157.74 L287.74,157.69 L289.17,157.73 L290.58,157.87 L291.96,158.11 L293.32,158.45 L294.65,158.87 L295.96,159.37 L297.24,159.96 L298.50,160.61 L299.74,161.33 L300.96,162.12 L302.16,162.96 L303.33,163.85 L304.49,164.79 L305.63,165.77 L306.75,166.79 L307.85,167.84 L308.94,168.91 L310.01,170.00 L311.06,171.11 L312.10,172.24 L313.12,173.37 L314.13,174.52 L315.13,175.68 L316.11,176.84 L317.08,178.02 L318.05,179.20 L319.00,180.38 L319.94,181.58 L320.87,182.77 L321.80,183.97 L322.71,185.18 L323.62,186.38 L324.52,187.58 L325.42,188.79 L326.31,189.99 L327.20,191.19 L328.08,192.39 L328.95,193.60 L329.82,194.80 L330.69,196.00 L331.55,197.21 L332.41,198.41 L333.26,199.62 L334.11,200.83 L334.95,202.04 L335.80,203.25 L336.64,204.46 L337.47,205.68 L338.31,206.90 L339.14,208.12 L339.97,209.34 L340.79,210.57 L341.62,211.80 L342.44,213.03 L343.27,214.27 L344.09,215.51 L344.91,216.76 L345.73,218.01 L346.55,219.26 L347.37,220.52 L348.19,221.79 L349.00,223.06 L349.82,224.34 L350.64,225.62 L351.46,226.91 L352.28,228.20 L353.09,229.49 L353.91,230.79 L354.71,232.09 L355.51,233.40 L356.31,234.70 L357.10,236.01 L357.88,237.32 L358.65,238.63 L359.41,239.94 L360.16,241.25 L360.90,242.56 L361.63,243.86 L362.35,245.17 L363.05,246.47 L363.73,247.77 L364.41,249.07 L365.08,250.36 L365.75,251.65 L366.43,252.94 L367.11,254.22 L367.80,255.49 L368.50,256.76 L369.22,258.02 L369.96,259.27 L370.73,260.52 L371.52,261.75 L372.35,262.98 L373.21,264.20 L374.09,265.42 L375.00,266.62 L375.94,267.82 L376.88,269.02 L377.85,270.21 L378.82,271.40 L379.80,272.58 L380.79,273.77 L381.77,274.95 L382.75,276.13 L383.73,277.31 L384.70,278.49 L385.65,279.67 L386.59,280.85 L387.52,282.04 L388.43,283.23 L389.34,284.41 L390.23,285.60 L391.12,286.79 L392.01,287.98 L392.88,289.17 L393.76,290.35 L394.64,291.54 L395.52,292.72 L396.40,293.90 L397.28,295.07 L398.17,296.25 L399.07,297.42 L399.98,298.59 L400.90,299.75 L401.83,300.91 L402.77,302.06 L403.71,303.21 L404.67,304.35 L405.64,305.49 L406.62,306.63 L407.60,307.75 L408.60,308.88 L409.60,309.99 L410.62,311.10 L411.64,312.20 L412.67,313.30 L413.72,314.39 L414.77,315.47 L415.82,316.55 L416.89,317.61 L417.97,318.67 L419.05,319.72 L420.14,320.77 L421.24,321.80 L422.35,322.83 L423.47,323.84 L424.59,324.85 L425.72,325.85 L426.86,326.84 L428.01,327.82 L429.16,328.78 L430.32,329.74 L431.49,330.69 L432.67,331.63 L433.85,332.56 L435.04,333.47 L436.23,334.38 L437.44,335.27 L438.64,336.15 L439.86,337.03 L441.08,337.89 L442.31,338.74 L443.54,339.58 L444.78,340.41 L446.03,341.23 L447.28,342.03 L448.54,342.83 L449.80,343.62 L451.07,344.40 L452.35,345.17 L453.63,345.92 L454.92,346.67 L456.21,347.41 L457.51,348.14 L458.81,348.86 L460.12,349.57 L461.43,350.27 L462.75,350.96 L464.07,351.64 L465.40,352.31 L466.73,352.97 L468.07,353.63 L469.41,354.27 L470.76,354.91 L472.11,355.53 L473.46,356.15 L474.82,356.76 L476.19,357.36 L477.56,357.95 L478.93,358.54 L480.30,359.11 L481.68,359.68 L483.07,360.24 L484.46,360.79 L485.85,361.34 L487.24,361.87 L488.64,362.40 L490.04,362.92 L491.45,363.43 L492.86,363.93 L494.27,364.43 L495.68,364.92 L497.10,365.40 L498.52,365.88 L499.94,366.35 L501.37,366.81 L502.80,367.26 L504.23,367.71 L505.67,368.15 L507.10,368.58 L508.54,369.01 L509.99,369.43 L511.43,369.84 L512.88,370.25 L514.32,370.65 L515.77,371.04 L517.23,371.43 L518.68,371.81 L520.14,372.19 L521.59,372.56 L523.05,372.92 L524.51,373.28 L525.97,373.63 L527.44,373.98 L528.90,374.32 L530.37,374.65 L531.84,374.98 L533.30,375.31 L534.77,375.63 L536.24,375.94 L537.71,376.25 L539.18,376.56 L540.66,376.86 L542.13,377.15 L543.60,377.44 L545.08,377.73 L546.55,378.01 L548.02,378.29 L549.50,378.56 L550.97,378.83 L552.45,379.09 L553.92,379.35 L555.40,379.61 L556.88,379.86 L558.35,380.10 L559.83,380.35 L561.31,380.58 L562.78,380.82 L564.26,381.05 L565.74,381.28 L567.22,381.50 L568.70,381.72 L570.18,381.94 L571.66,382.15 L573.14,382.36 L574.62,382.56 L576.10,382.77 L577.58,382.97 L579.06,383.16 L580.54,383.35 L582.02,383.54 L583.50,383.73 L584.98,383.91 L586.47,384.09 L587.95,384.27 L589.43,384.44 L590.92,384.61 L592.40,384.78 L593.88,384.95 L595.37,385.11 L596.85,385.27 L598.34,385.43 L599.82,385.59 L601.31,385.74 L602.80,385.89 L604.28,386.04 L605.77,386.19 L607.26,386.33 L608.74,386.48 L610.23,386.62 L611.72,386.75 L613.21,386.89 L614.70,387.03 L616.19,387.16 L617.68,387.29 L619.16,387.42 L620.65,387.55 L622.14,387.67 L623.64,387.80 L625.13,387.92 L626.62,388.04 L628.11,388.16 L629.60,388.28 L631.09,388.40 L632.59,388.52 L634.08,388.63 L635.57,388.75 L637.06,388.86 L638.56,388.97 L640.05,389.09 L641.55,389.20 L643.04,389.31 L644.54,389.42 L646.03,389.53 L647.53,389.63 L649.02,389.74 L650.52,389.85 L652.02,389.96 L653.51,390.06 L655.01,390.17 L656.51,390.28 L658.01,390.38 L659.50,390.49 L661.00,390.59 L662.50,390.70 L664.00,390.81" stroke="#35a735" stroke-dasharray="5.5,2.5"/>
<path d="M84.00,396.60 L90.90,393.88 L110.20,386.54 L129.50,377.70 L148.80,363.89 L168.10,341.36 L187.40,309.64 L206.70,278.66 L226.00,248.34 L245.30,220.62 L264.60,199.55 L283.90,188.81 L303.20,189.81 L322.50,199.81 L341.80,215.17 L361.10,238.17 L380.40,263.73 L399.70,286.26 L419.00,306.97 L438.30,324.31 L457.60,338.15 L476.90,348.94 L496.20,357.57 L515.50,364.70 L534.80,370.67 L554.10,375.64 L573.40,379.76 L592.70,383.13 L612.00,385.86 L631.30,388.04 L650.60,389.79 L664.00,390.80" stroke="#606c7f" stroke-dasharray="5.5,2.5"/>
</g>
<line x1="84.0" y1="7.0" x2="84.0" y2="401.8" stroke="#333" stroke-width="1.0"/>
<line x1="664.0" y1="7.0" x2="664.0" y2="401.8" stroke="#000" stroke-width="1.25"/>
<line x1="83.7" y1="7.4" x2="664.3" y2="7.4" stroke="#111" stroke-width="1.3"/>
<line x1="83.7" y1="401.4" x2="664.3" y2="401.4" stroke="#111" stroke-width="1.15"/>
<line x1="80.60000000000001" y1="401.3" x2="84.2" y2="401.3" stroke="#222" stroke-width="1.1"/>
<text x="75.90" y="407.00" text-anchor="end" font-size="15.2" textLength="49.50" lengthAdjust="spacingAndGlyphs">0.0000</text>
<line x1="80.60000000000001" y1="355.2" x2="84.2" y2="355.2" stroke="#222" stroke-width="1.1"/>
<text x="75.90" y="360.90" text-anchor="end" font-size="15.2" textLength="49.50" lengthAdjust="spacingAndGlyphs">0.0005</text>
<line x1="80.60000000000001" y1="309.1" x2="84.2" y2="309.1" stroke="#222" stroke-width="1.1"/>
<text x="75.90" y="314.80" text-anchor="end" font-size="15.2" textLength="49.50" lengthAdjust="spacingAndGlyphs">0.0010</text>
<line x1="80.60000000000001" y1="263.0" x2="84.2" y2="263.0" stroke="#222" stroke-width="1.1"/>
<text x="75.90" y="268.70" text-anchor="end" font-size="15.2" textLength="49.50" lengthAdjust="spacingAndGlyphs">0.0015</text>
<line x1="80.60000000000001" y1="216.9" x2="84.2" y2="216.9" stroke="#222" stroke-width="1.1"/>
<text x="75.90" y="222.60" text-anchor="end" font-size="15.2" textLength="49.50" lengthAdjust="spacingAndGlyphs">0.0020</text>
<line x1="80.60000000000001" y1="170.8" x2="84.2" y2="170.8" stroke="#222" stroke-width="1.1"/>
<text x="75.90" y="176.50" text-anchor="end" font-size="15.2" textLength="49.50" lengthAdjust="spacingAndGlyphs">0.0025</text>
<line x1="80.60000000000001" y1="124.7" x2="84.2" y2="124.7" stroke="#222" stroke-width="1.1"/>
<text x="75.90" y="130.40" text-anchor="end" font-size="15.2" textLength="49.50" lengthAdjust="spacingAndGlyphs">0.0030</text>
<line x1="80.60000000000001" y1="78.6" x2="84.2" y2="78.6" stroke="#222" stroke-width="1.1"/>
<text x="75.90" y="84.30" text-anchor="end" font-size="15.2" textLength="49.50" lengthAdjust="spacingAndGlyphs">0.0035</text>
<line x1="80.60000000000001" y1="32.5" x2="84.2" y2="32.5" stroke="#222" stroke-width="1.1"/>
<text x="75.90" y="38.20" text-anchor="end" font-size="15.2" textLength="49.50" lengthAdjust="spacingAndGlyphs">0.0040</text>
<line x1="89.8" y1="401.3" x2="89.8" y2="404.90000000000003" stroke="#222" stroke-width="1.1"/>
<text x="90.10" y="420.10" text-anchor="middle" font-size="15.2" textLength="39.20" lengthAdjust="spacingAndGlyphs">−200</text>
<line x1="204.6" y1="401.3" x2="204.6" y2="404.90000000000003" stroke="#222" stroke-width="1.1"/>
<text x="204.60" y="420.10" text-anchor="middle" font-size="15.2" textLength="8.80" lengthAdjust="spacingAndGlyphs">0</text>
<line x1="319.4" y1="401.3" x2="319.4" y2="404.90000000000003" stroke="#222" stroke-width="1.1"/>
<text x="319.40" y="420.10" text-anchor="middle" font-size="15.2" textLength="26.60" lengthAdjust="spacingAndGlyphs">200</text>
<line x1="434.2" y1="401.3" x2="434.2" y2="404.90000000000003" stroke="#222" stroke-width="1.1"/>
<text x="434.20" y="420.10" text-anchor="middle" font-size="15.2" textLength="26.60" lengthAdjust="spacingAndGlyphs">400</text>
<line x1="549.0" y1="401.3" x2="549.0" y2="404.90000000000003" stroke="#222" stroke-width="1.1"/>
<text x="549.00" y="420.10" text-anchor="middle" font-size="15.2" textLength="26.60" lengthAdjust="spacingAndGlyphs">600</text>
<line x1="663.8" y1="401.3" x2="663.8" y2="404.90000000000003" stroke="#222" stroke-width="1.1"/>
<text x="663.80" y="420.10" text-anchor="middle" font-size="15.2" textLength="26.60" lengthAdjust="spacingAndGlyphs">800</text>
<text x="371.20" y="438.00" text-anchor="middle" font-size="14.8" font-weight="bold" style="stroke-width:0.35" textLength="180.50" lengthAdjust="spacingAndGlyphs">Discharge error (m³/s)</text>
<text x="373.50" y="454.00" text-anchor="middle" font-size="14.8" font-weight="bold" style="stroke-width:0.35" textLength="176.50" lengthAdjust="spacingAndGlyphs">Observed - Simulated</text>
<g transform="translate(19.0,204.7) rotate(-90)"><text x="0.00" y="0.00" text-anchor="middle" font-size="14.8" font-weight="bold" style="stroke-width:0.35" textLength="61.50" lengthAdjust="spacingAndGlyphs">Density</text></g>
<rect x="552.2" y="13.8" width="105" height="242.6" rx="2.5" fill="#fff" fill-opacity="0.8" stroke="#d8d8d8" stroke-width="1"/>
<text x="604.60" y="29.90" text-anchor="middle" font-size="15.2" textLength="43.00" lengthAdjust="spacingAndGlyphs">Model</text>
<line x1="556" y1="44.20" x2="582.5" y2="44.20" stroke="#1010aa" stroke-width="1.6"/>
<text x="591.60" y="48.90" text-anchor="start" font-size="13.2" textLength="53.59" lengthAdjust="spacingAndGlyphs" style="stroke-width:0.08">LSTM 3h</text>
<line x1="556" y1="62.47" x2="582.5" y2="62.47" stroke="#c01010" stroke-width="1.6"/>
<text x="591.60" y="67.17" text-anchor="start" font-size="13.2" textLength="53.59" lengthAdjust="spacingAndGlyphs" style="stroke-width:0.08">LSTM 6h</text>
<line x1="556" y1="80.74" x2="582.5" y2="80.74" stroke="#000000" stroke-width="1.6"/>
<text x="591.60" y="85.44" text-anchor="start" font-size="13.2" textLength="61.61" lengthAdjust="spacingAndGlyphs" style="stroke-width:0.08">LSTM 12h</text>
<line x1="556" y1="99.01" x2="582.5" y2="99.01" stroke="#c010c0" stroke-width="1.6"/>
<text x="591.60" y="103.71" text-anchor="start" font-size="13.2" textLength="61.61" lengthAdjust="spacingAndGlyphs" style="stroke-width:0.08">LSTM 18h</text>
<line x1="556" y1="117.28" x2="582.5" y2="117.28" stroke="#3cb03c" stroke-width="1.6"/>
<text x="591.60" y="121.98" text-anchor="start" font-size="13.2" textLength="61.61" lengthAdjust="spacingAndGlyphs" style="stroke-width:0.08">LSTM 24h</text>
<line x1="556" y1="135.55" x2="582.5" y2="135.55" stroke="#687890" stroke-width="1.6"/>
<text x="591.60" y="140.25" text-anchor="start" font-size="13.2" textLength="61.61" lengthAdjust="spacingAndGlyphs" style="stroke-width:0.08">LSTM 36h</text>
<line x1="556.6" y1="153.82" x2="580.4" y2="153.82" stroke="#1010aa" stroke-width="1.6" stroke-dasharray="5.5,2.5"/>
<text x="591.60" y="158.52" text-anchor="start" font-size="13.2" textLength="42.42" lengthAdjust="spacingAndGlyphs" style="stroke-width:0.08">ATT 3h</text>
<line x1="556.6" y1="172.09" x2="580.4" y2="172.09" stroke="#c01010" stroke-width="1.6" stroke-dasharray="5.5,2.5"/>
<text x="591.60" y="176.79" text-anchor="start" font-size="13.2" textLength="42.42" lengthAdjust="spacingAndGlyphs" style="stroke-width:0.08">ATT 6h</text>
<line x1="556.6" y1="190.36" x2="580.4" y2="190.36" stroke="#000000" stroke-width="1.6" stroke-dasharray="5.5,2.5"/>
<text x="591.60" y="195.06" text-anchor="start" font-size="13.2" textLength="50.44" lengthAdjust="spacingAndGlyphs" style="stroke-width:0.08">ATT 12h</text>
<line x1="556.6" y1="208.63" x2="580.4" y2="208.63" stroke="#c010c0" stroke-width="1.6" stroke-dasharray="5.5,2.5"/>
<text x="591.60" y="213.33" text-anchor="start" font-size="13.2" textLength="50.44" lengthAdjust="spacingAndGlyphs" style="stroke-width:0.08">ATT 18h</text>
<line x1="556.6" y1="226.90" x2="580.4" y2="226.90" stroke="#3cb03c" stroke-width="1.6" stroke-dasharray="5.5,2.5"/>
<text x="591.60" y="231.60" text-anchor="start" font-size="13.2" textLength="50.44" lengthAdjust="spacingAndGlyphs" style="stroke-width:0.08">ATT 24h</text>
<line x1="556.6" y1="245.17" x2="580.4" y2="245.17" stroke="#687890" stroke-width="1.6" stroke-dasharray="5.5,2.5"/>
<text x="591.60" y="249.87" text-anchor="start" font-size="13.2" textLength="50.44" lengthAdjust="spacingAndGlyphs" style="stroke-width:0.08">ATT 36h</text>
</g></svg></div></body></html>
